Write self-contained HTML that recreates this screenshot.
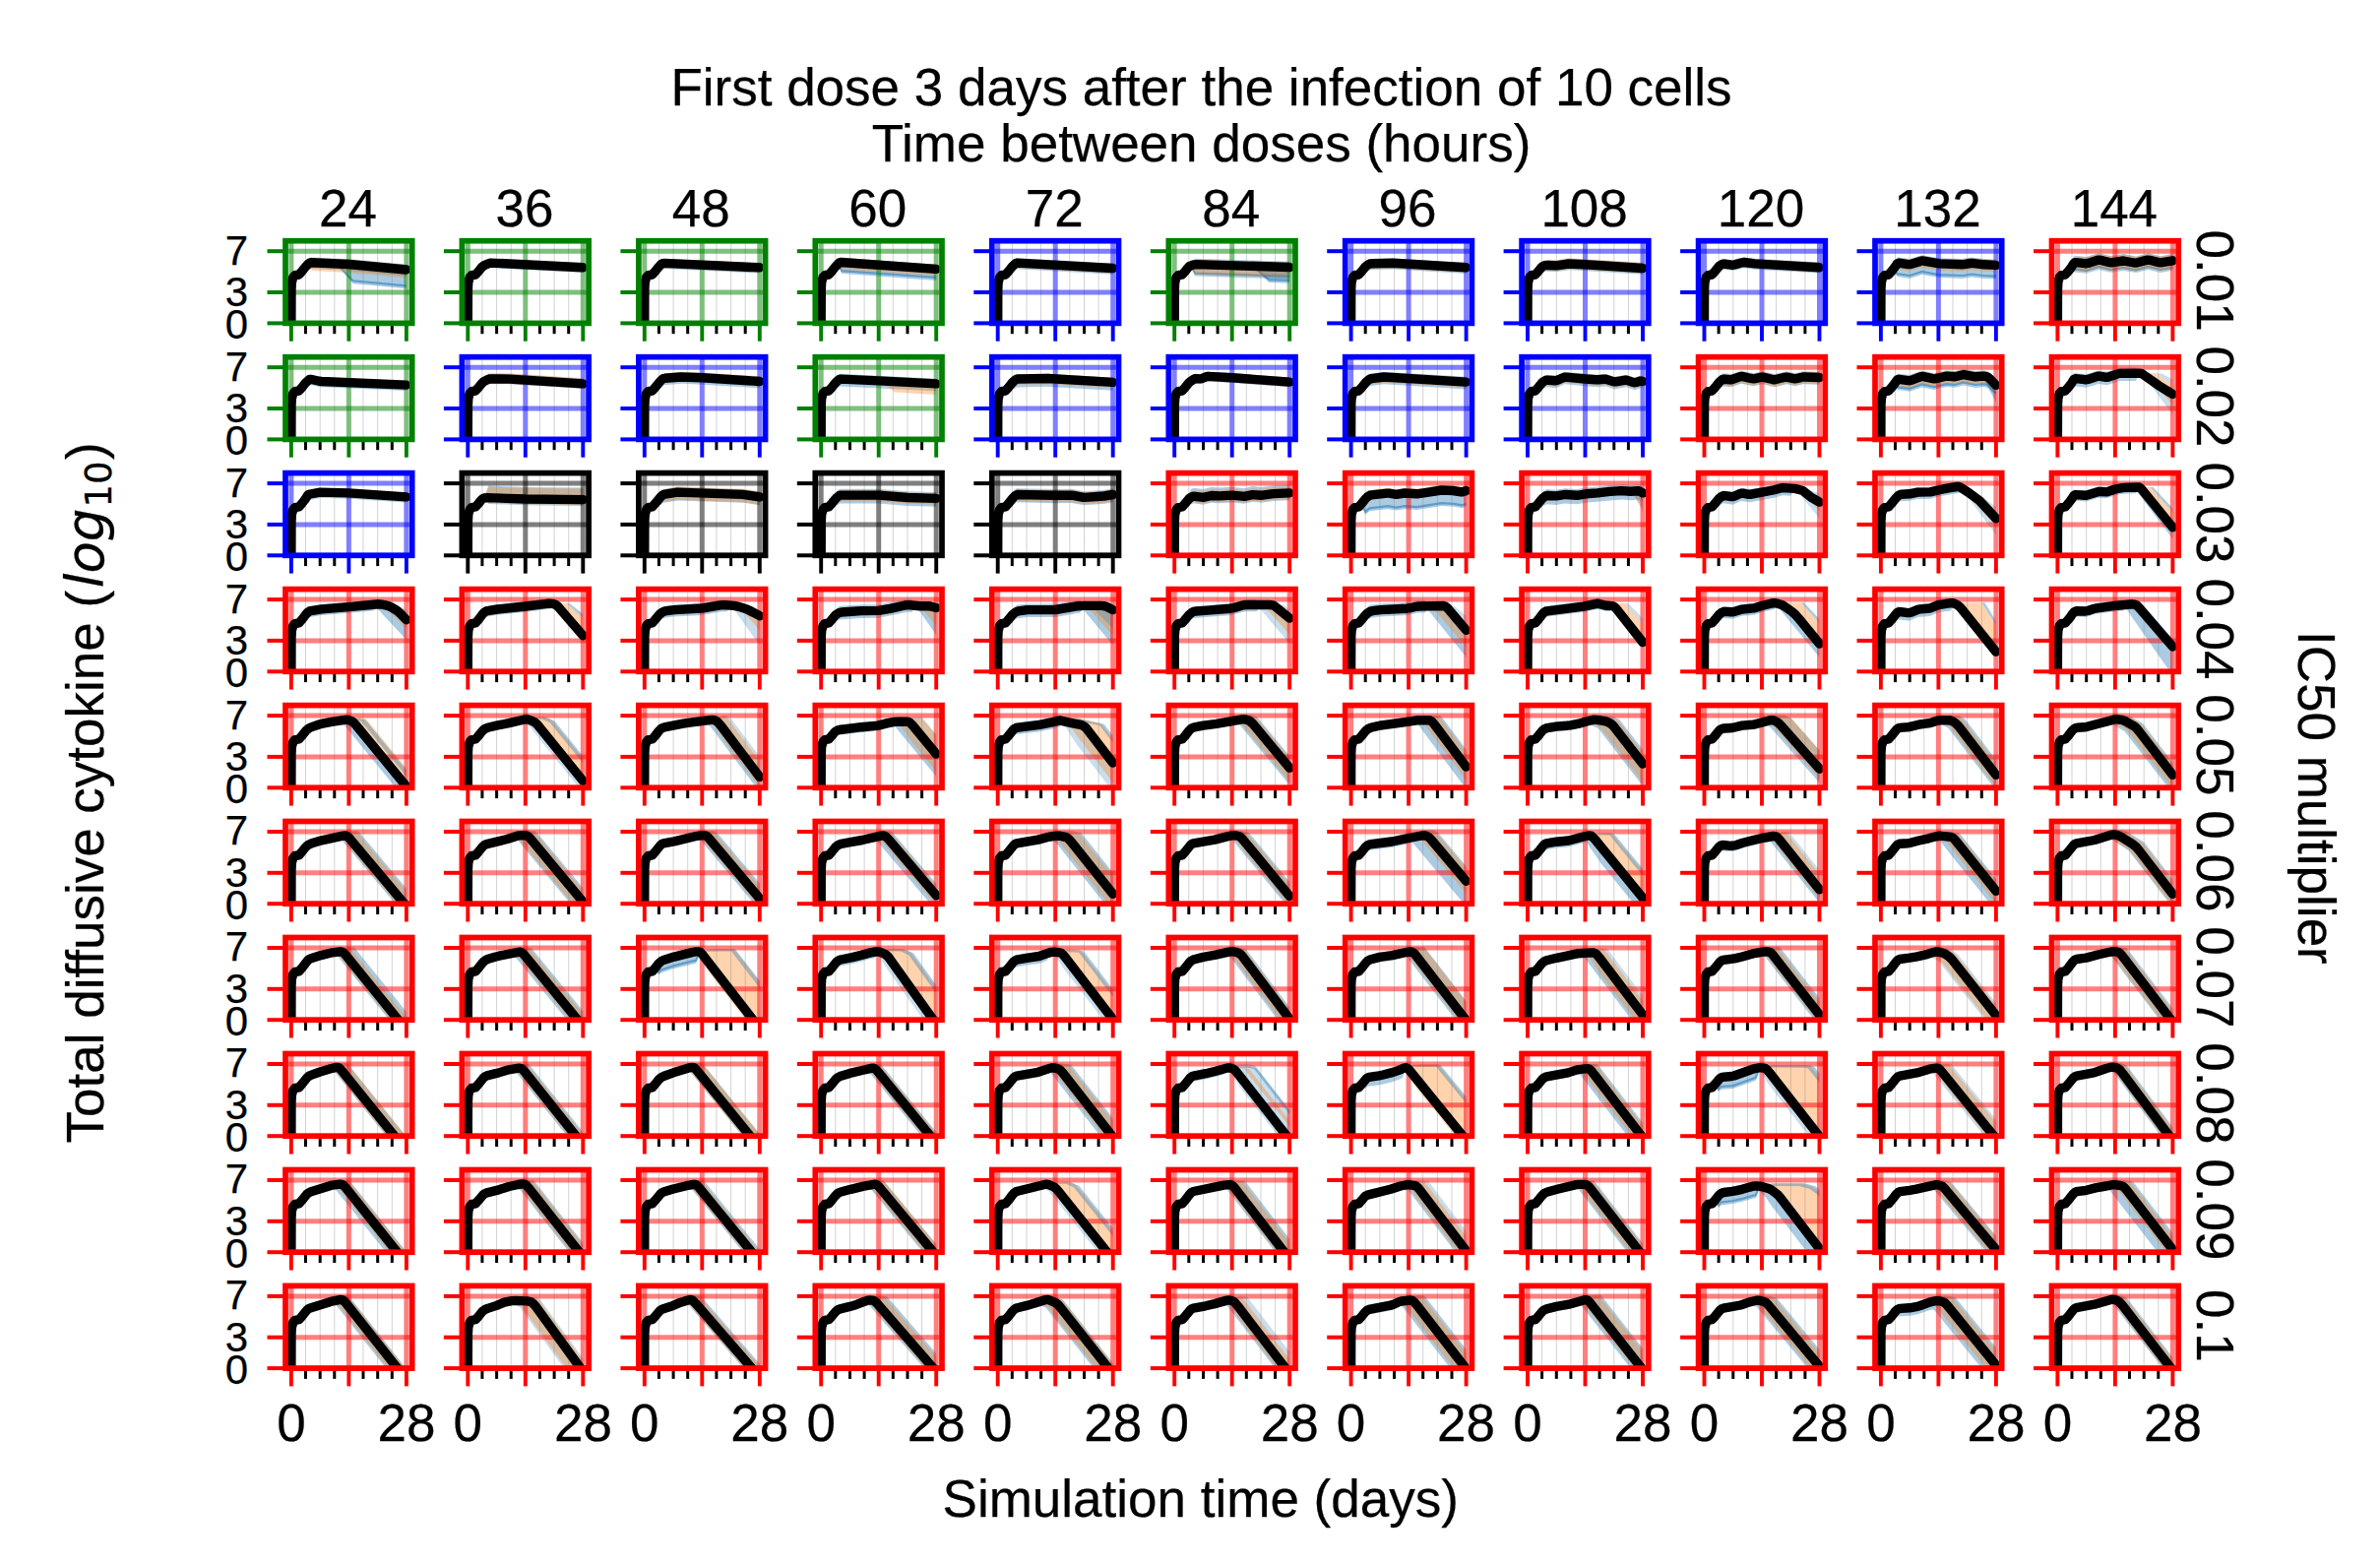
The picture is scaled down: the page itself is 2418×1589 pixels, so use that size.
<!DOCTYPE html>
<html lang="en"><head><meta charset="utf-8"><title>Total diffusive cytokine</title>
<style>
html,body{margin:0;padding:0;background:#fff}
svg{display:block}
text{font-family:"Liberation Sans", sans-serif;fill:#000;stroke:#000;stroke-width:0.25px}
.m{font-size:53px}
.t{font-size:42px}
.cu{fill:none;stroke:#000;stroke-width:9.4;stroke-linejoin:round;stroke-linecap:round}
.mg{stroke:#808080;stroke-width:0.8;stroke-opacity:0.45}
.mt{stroke:#000;stroke-width:3}
</style></head><body>
<svg width="2418" height="1589" viewBox="0 0 2418 1589">
<rect width="2418" height="1589" fill="#fff"/>
<defs><clipPath id="ax"><rect x="-5.9" y="-83.7" width="128.7" height="83.7"/></clipPath>
<g id="mn"><line class="mg" x1="14.6" x2="14.6" y1="-83.7" y2="0"/><line class="mg" x1="29.3" x2="29.3" y1="-83.7" y2="0"/><line class="mg" x1="43.9" x2="43.9" y1="-83.7" y2="0"/><line class="mg" x1="73.1" x2="73.1" y1="-83.7" y2="0"/><line class="mg" x1="87.8" x2="87.8" y1="-83.7" y2="0"/><line class="mg" x1="102.4" x2="102.4" y1="-83.7" y2="0"/><line class="mt" x1="14.6" x2="14.6" y1="0" y2="10.8"/><line class="mt" x1="29.3" x2="29.3" y1="0" y2="10.8"/><line class="mt" x1="43.9" x2="43.9" y1="0" y2="10.8"/><line class="mt" x1="73.1" x2="73.1" y1="0" y2="10.8"/><line class="mt" x1="87.8" x2="87.8" y1="0" y2="10.8"/><line class="mt" x1="102.4" x2="102.4" y1="0" y2="10.8"/></g>
<g id="fg" stroke="#008000" fill="none"><g stroke-opacity="0.5" stroke-width="5" clip-path="url(#ax)"><line x1="0" x2="0" y1="-83.7" y2="0"/><line x1="58.5" x2="58.5" y1="-83.7" y2="0"/><line x1="117" x2="117" y1="-83.7" y2="0"/><line x1="-5.9" x2="122.9" y1="0" y2="0"/><line x1="-5.9" x2="122.9" y1="-31.4" y2="-31.4"/><line x1="-5.9" x2="122.9" y1="-73.2" y2="-73.2"/></g></g>
<g id="sg" stroke="#008000" fill="none"><line x1="0" x2="0" y1="0" y2="18.3" stroke-width="3.9"/><line x1="58.5" x2="58.5" y1="0" y2="18.3" stroke-width="3.9"/><line x1="117" x2="117" y1="0" y2="18.3" stroke-width="3.9"/><line x1="-24.4" x2="-5.9" y1="0" y2="0" stroke-width="4"/><line x1="-24.4" x2="-5.9" y1="-31.4" y2="-31.4" stroke-width="4"/><line x1="-24.4" x2="-5.9" y1="-73.2" y2="-73.2" stroke-width="4"/><rect x="-5.9" y="-83.7" width="128.7" height="83.7" stroke-width="5.7"/></g>
<g id="fb" stroke="#0000ff" fill="none"><g stroke-opacity="0.5" stroke-width="5" clip-path="url(#ax)"><line x1="0" x2="0" y1="-83.7" y2="0"/><line x1="58.5" x2="58.5" y1="-83.7" y2="0"/><line x1="117" x2="117" y1="-83.7" y2="0"/><line x1="-5.9" x2="122.9" y1="0" y2="0"/><line x1="-5.9" x2="122.9" y1="-31.4" y2="-31.4"/><line x1="-5.9" x2="122.9" y1="-73.2" y2="-73.2"/></g></g>
<g id="sb" stroke="#0000ff" fill="none"><line x1="0" x2="0" y1="0" y2="18.3" stroke-width="3.9"/><line x1="58.5" x2="58.5" y1="0" y2="18.3" stroke-width="3.9"/><line x1="117" x2="117" y1="0" y2="18.3" stroke-width="3.9"/><line x1="-24.4" x2="-5.9" y1="0" y2="0" stroke-width="4"/><line x1="-24.4" x2="-5.9" y1="-31.4" y2="-31.4" stroke-width="4"/><line x1="-24.4" x2="-5.9" y1="-73.2" y2="-73.2" stroke-width="4"/><rect x="-5.9" y="-83.7" width="128.7" height="83.7" stroke-width="5.7"/></g>
<g id="fk" stroke="#000000" fill="none"><g stroke-opacity="0.5" stroke-width="5" clip-path="url(#ax)"><line x1="0" x2="0" y1="-83.7" y2="0"/><line x1="58.5" x2="58.5" y1="-83.7" y2="0"/><line x1="117" x2="117" y1="-83.7" y2="0"/><line x1="-5.9" x2="122.9" y1="0" y2="0"/><line x1="-5.9" x2="122.9" y1="-31.4" y2="-31.4"/><line x1="-5.9" x2="122.9" y1="-73.2" y2="-73.2"/></g></g>
<g id="sk" stroke="#000000" fill="none"><line x1="0" x2="0" y1="0" y2="18.3" stroke-width="3.9"/><line x1="58.5" x2="58.5" y1="0" y2="18.3" stroke-width="3.9"/><line x1="117" x2="117" y1="0" y2="18.3" stroke-width="3.9"/><line x1="-24.4" x2="-5.9" y1="0" y2="0" stroke-width="4"/><line x1="-24.4" x2="-5.9" y1="-31.4" y2="-31.4" stroke-width="4"/><line x1="-24.4" x2="-5.9" y1="-73.2" y2="-73.2" stroke-width="4"/><rect x="-5.9" y="-83.7" width="128.7" height="83.7" stroke-width="5.7"/></g>
<g id="fr" stroke="#ff0000" fill="none"><g stroke-opacity="0.5" stroke-width="5" clip-path="url(#ax)"><line x1="0" x2="0" y1="-83.7" y2="0"/><line x1="58.5" x2="58.5" y1="-83.7" y2="0"/><line x1="117" x2="117" y1="-83.7" y2="0"/><line x1="-5.9" x2="122.9" y1="0" y2="0"/><line x1="-5.9" x2="122.9" y1="-31.4" y2="-31.4"/><line x1="-5.9" x2="122.9" y1="-73.2" y2="-73.2"/></g></g>
<g id="sr" stroke="#ff0000" fill="none"><line x1="0" x2="0" y1="0" y2="18.3" stroke-width="3.9"/><line x1="58.5" x2="58.5" y1="0" y2="18.3" stroke-width="3.9"/><line x1="117" x2="117" y1="0" y2="18.3" stroke-width="3.9"/><line x1="-24.4" x2="-5.9" y1="0" y2="0" stroke-width="4"/><line x1="-24.4" x2="-5.9" y1="-31.4" y2="-31.4" stroke-width="4"/><line x1="-24.4" x2="-5.9" y1="-73.2" y2="-73.2" stroke-width="4"/><rect x="-5.9" y="-83.7" width="128.7" height="83.7" stroke-width="5.7"/></g>
</defs>
<g transform="translate(295.9 328.4)"><g clip-path="url(#ax)"><path d="M12.5 -54.9L16.7 -64.8L18.3 -66.5L19.2 -66.9L59 -65.1L117 -59.7L117 -48.2L58.2 -53.6L19.2 -55.4L16.7 -53.4L15 -54.3L12.5 -54.9Z" fill="#1f77b4" fill-opacity="0.38"/><path d="M46 -60.5L62.5 -63.7L117 -58.6L117 -35.1L63.3 -40.1L62.5 -40.4L46 -60.5Z" fill="#1f77b4" fill-opacity="0.38"/><path d="M46 -60.5L62.7 -43.1L117 -38" fill="none" stroke="#1f77b4" stroke-opacity="0.55" stroke-width="2.2"/><path d="M16.7 -59.7L19.2 -64.5L20.9 -66.3L21.7 -66.3L59 -64.6L117 -59.1L117 -46.1L59 -51.5L20.9 -53.3L19.2 -56.7L16.7 -59.7Z" fill="#ff7f0e" fill-opacity="0.34"/></g><use href="#mn"/><use href="#fg"/><path class="cu" clip-path="url(#ax)" d="M0 5.2L0 0L0.1 -34.5L0.5 -41.8L1.9 -46.5L3.8 -48.7L7.9 -49.4L10 -51.8L10.9 -52.8L14.2 -57L16.7 -59.7L18.4 -61.1L20.1 -61.6L58.5 -59.9L117 -54.4"/><use href="#sg"/></g>
<g transform="translate(475.3 328.4)"><g clip-path="url(#ax)"><path d="M12.5 -54.9L15 -60.5L16.7 -62.9L22.5 -65.6L117 -60.7L117 -51.3L23.3 -56.2L22.5 -56.2L16.7 -53.6L15 -54.9L12.5 -54.9Z" fill="#1f77b4" fill-opacity="0.38"/></g><use href="#mn"/><use href="#fg"/><path class="cu" clip-path="url(#ax)" d="M0 5.2L0 0L0.1 -34.5L0.5 -41.8L1.9 -46.5L3.8 -48.7L7.9 -49.4L10 -51.8L10.9 -52.8L14.2 -56.9L15.9 -58.3L20.9 -60.7L23.4 -61.3L117 -56.6"/><use href="#sg"/></g>
<g transform="translate(654.8 328.4)"><g clip-path="url(#ax)"><path d="M12.5 -54.9L16.7 -63.7L18.3 -65.3L117 -60.7L117 -50.8L19.2 -55.3L18.3 -55.3L16.7 -53.8L15 -54.6L12.5 -54.9Z" fill="#1f77b4" fill-opacity="0.38"/><path d="M16.7 -59.6L18.4 -63L20.9 -65.7L117 -61.3L117 -51.8L21.7 -56.3L20.9 -56.3L18.4 -59.2L16.7 -59.6Z" fill="#ff7f0e" fill-opacity="0.34"/></g><use href="#mn"/><use href="#fg"/><path class="cu" clip-path="url(#ax)" d="M0 5.2L0 0L0.1 -34.5L0.5 -41.8L1.9 -46.5L3.8 -48.7L7.9 -49.4L10 -51.8L10.9 -52.8L14.2 -57L16.7 -59.6L18.4 -60.7L20.1 -61L117 -56.6"/><use href="#sg"/></g>
<g transform="translate(834.2 328.4)"><g clip-path="url(#ax)"><path d="M16.7 -59.8L19.2 -64.8L20.9 -66.6L117 -59.7L117 -43.5L21.7 -50.3L20.9 -50.5L19.2 -55.2L16.7 -59.8Z" fill="#1f77b4" fill-opacity="0.38"/><path d="M16.7 -59.8L18.8 -57.7L20.9 -53.3L117 -46.5" fill="none" stroke="#1f77b4" stroke-opacity="0.55" stroke-width="2.2"/><path d="M16.7 -59.8L19.2 -64.8L20.9 -66.6L117 -59.7L117 -48.2L21.7 -55L20.9 -55.1L19.2 -58L18.4 -58.9L16.7 -59.8Z" fill="#ff7f0e" fill-opacity="0.34"/></g><use href="#mn"/><use href="#fg"/><path class="cu" clip-path="url(#ax)" d="M0 5.2L0 0L0.1 -34.5L0.5 -41.8L1.9 -46.5L3.8 -48.7L7.9 -49.4L10 -51.8L10.9 -52.8L15 -58L17.6 -60.7L18.4 -61.3L19.2 -61.8L20.1 -61.9L117 -55"/><use href="#sg"/></g>
<g transform="translate(1013.7 328.4)"><g clip-path="url(#ax)"><path d="M12.5 -54.9L16.7 -64.2L19.2 -66.1L117 -60.7L117 -49.7L19.2 -55.1L16.7 -53.3L15 -54.3L12.5 -54.9Z" fill="#1f77b4" fill-opacity="0.38"/><path d="M16.7 -59.6L19.2 -63.9L20.9 -65.5L117 -60.1L117 -50.7L21.7 -56L20.9 -56.1L18.4 -59L16.7 -59.6Z" fill="#ff7f0e" fill-opacity="0.34"/></g><use href="#mn"/><use href="#fb"/><path class="cu" clip-path="url(#ax)" d="M0 5.2L0 0L0.1 -34.5L0.5 -41.8L1.9 -46.5L3.8 -48.7L7.9 -49.4L10 -51.8L10.9 -52.8L14.2 -57L16.7 -59.5L18.4 -60.8L20.1 -61.3L117 -55.9"/><use href="#sb"/></g>
<g transform="translate(1193.2 328.4)"><g clip-path="url(#ax)"><path d="M16.7 -58.6L20.9 -65.6L117 -62.6L117 -44.8L21.7 -47.8L20.9 -48L16.7 -58.6Z" fill="#1f77b4" fill-opacity="0.38"/><path d="M16.7 -58.6L20.9 -50.8L117 -47.8" fill="none" stroke="#1f77b4" stroke-opacity="0.55" stroke-width="2.2"/><path d="M79.4 -58L96.6 -61.7L117 -61L117 -40.6L96.6 -41.3L95.8 -41.7L79.4 -58Z" fill="#1f77b4" fill-opacity="0.38"/><path d="M79.4 -58L96.1 -44.2L117 -43.6" fill="none" stroke="#1f77b4" stroke-opacity="0.55" stroke-width="2.2"/><path d="M16.7 -58.6L20.9 -64.6L117 -61.6L117 -46.9L21.7 -49.9L20.9 -50L16.7 -58.6Z" fill="#ff7f0e" fill-opacity="0.34"/></g><use href="#mn"/><use href="#fg"/><path class="cu" clip-path="url(#ax)" d="M0 5.2L0 0L0.1 -34.5L0.5 -41.8L1.9 -46.5L3.8 -48.7L7.9 -49.4L10 -51.8L10.9 -52.8L13.4 -56L15 -57.7L15.9 -58.2L17.6 -58.8L20.1 -59.6L21.7 -59.8L117 -56.9"/><use href="#sg"/></g>
<g transform="translate(1372.6 328.4)"><g clip-path="url(#ax)"><path d="M12.5 -54.9L15 -60.8L16.7 -63.8L19.2 -65.2L42.4 -65.8L117 -61.3L117 -50.3L41.6 -54.8L19.2 -54.2L16.7 -52.9L15 -54.3L12.5 -54.9Z" fill="#1f77b4" fill-opacity="0.38"/><path d="M16.7 -59.1L19.2 -63L20.9 -64.7L41.6 -65.3L117 -60.7L117 -51.3L42.4 -55.9L20.9 -55.4L19.2 -57.4L16.7 -59.1Z" fill="#ff7f0e" fill-opacity="0.34"/></g><use href="#mn"/><use href="#fb"/><path class="cu" clip-path="url(#ax)" d="M0 5.2L0 0L0.1 -34.5L0.5 -41.8L1.9 -46.5L3.8 -48.7L7.9 -49.4L10 -51.8L10.9 -52.8L14.2 -56.9L15.9 -58.5L18.4 -60.1L19.2 -60.4L20.9 -60.6L42.6 -61.1L117 -56.6"/><use href="#sb"/></g>
<g transform="translate(1552 328.4)"><g clip-path="url(#ax)"><path d="M12.5 -54.9L15 -61.1L16.7 -63.6L19.2 -64.2L29.1 -63.6L41.6 -65.7L117 -61.2L117 -49.7L42.4 -54.2L29.1 -52.1L19.2 -52.7L16.7 -52.2L15 -54.3L12.5 -54.9Z" fill="#1f77b4" fill-opacity="0.38"/><path d="M16.7 -58.5L20.9 -64.6L29.2 -64.1L41.6 -66.2L117 -61.7L117 -50.7L42.4 -55.2L29.2 -53.2L21.7 -53.6L20.9 -53.7L16.7 -58.5Z" fill="#ff7f0e" fill-opacity="0.34"/></g><use href="#mn"/><use href="#fb"/><path class="cu" clip-path="url(#ax)" d="M0 5.2L0 0L0.1 -34.5L0.5 -41.8L1.9 -46.5L3.8 -48.7L7.9 -49.4L10 -51.8L10.9 -52.8L14.2 -56.9L15 -57.7L16.7 -58.5L18.4 -58.8L20.1 -58.9L29.3 -58.5L41.8 -60.4L58.5 -59.6L117 -55.9"/><use href="#sb"/></g>
<g transform="translate(1731.5 328.4)"><g clip-path="url(#ax)"><path d="M12.5 -54.9L15 -61.1L16.7 -64.3L18.3 -65.4L19.2 -65.7L29.1 -64.2L39.9 -67.2L50.7 -65.7L117 -61.8L117 -50.8L50.7 -54.7L39.9 -56.2L29.1 -53.3L19.2 -54.7L16.7 -53.4L15 -54.6L12.5 -54.9Z" fill="#1f77b4" fill-opacity="0.38"/><path d="M16.7 -59.1L19.2 -63.3L20.9 -64.9L29.2 -63.7L39.9 -66.7L50.7 -65.2L117 -61.3L117 -51.8L50.7 -55.8L39.9 -57.3L29.2 -54.3L20.9 -55.5L19.2 -57.7L16.7 -59.1Z" fill="#ff7f0e" fill-opacity="0.34"/></g><use href="#mn"/><use href="#fb"/><path class="cu" clip-path="url(#ax)" d="M0 5.2L0 0L0.1 -34.5L0.5 -41.8L1.9 -46.5L3.8 -48.7L7.9 -49.4L10 -51.8L10.9 -52.8L15 -57.8L16.7 -59.1L18.4 -60.1L20.1 -60.3L27.6 -59.2L29.3 -59.2L30.9 -59.5L38.5 -61.6L40.1 -61.9L51 -60.5L117 -56.6"/><use href="#sb"/></g>
<g transform="translate(1910.9 328.4)"><g clip-path="url(#ax)"><path d="M12.5 -54.9L15 -61.5L16.7 -67.1L29.1 -65.4L41.6 -69.2L59 -66.2L83 -65.4L92.2 -66.8L104.6 -65.3L117 -64.7L117 -44.9L104.6 -45.5L92.2 -47L83 -45.5L59 -46.4L41.6 -49.4L29.1 -45.5L16.7 -47.3L15 -49.6L12.5 -54.9Z" fill="#1f77b4" fill-opacity="0.38"/><path d="M12.5 -54.9L14.6 -51.9L16.7 -50.2L29.3 -48.4L41.8 -52.4L58.5 -49.3L83.6 -48.4L92 -49.9L104.5 -48.4L117 -47.8" fill="none" stroke="#1f77b4" stroke-opacity="0.55" stroke-width="2.2"/><path d="M16.7 -61.4L20.9 -66L29.2 -64.8L41.6 -68.7L59 -65.7L83 -64.8L92.2 -66.3L104.6 -64.8L117 -64.2L117 -52.2L104.6 -52.8L92.2 -54.3L83 -52.8L59 -53.7L41.6 -56.7L29.2 -52.8L20.9 -54.1L16.7 -61.4Z" fill="#ff7f0e" fill-opacity="0.34"/></g><use href="#mn"/><use href="#fb"/><path class="cu" clip-path="url(#ax)" d="M0 5.2L0 0L0.1 -34.5L0.5 -41.8L1.9 -46.5L3.8 -48.7L7.9 -49.4L10 -51.8L10.9 -52.8L14.2 -57.1L15.9 -59.6L16.7 -60.6L17.6 -61.1L18.4 -61.2L27.6 -59.8L29.3 -59.8L30.9 -60.1L40.1 -63L41.8 -63.4L43.5 -63.2L59.4 -60.5L82.8 -59.7L84.4 -59.8L91.1 -60.9L92.8 -61L104.5 -59.6L117 -59"/><use href="#sb"/></g>
<g transform="translate(2090.4 328.4)"><g clip-path="url(#ax)"><path d="M12.5 -54.9L15 -62.1L16.7 -68.7L29.1 -67.3L41.6 -71.2L54 -68.3L67.3 -70.3L79.7 -68L92.2 -71.2L104.6 -68.2L117 -70.3L117 -53.6L104.6 -51.5L92.2 -54.5L79.7 -51.3L67.3 -53.5L54 -51.6L41.6 -54.5L29.1 -50.6L15 -52.1L12.5 -54.9Z" fill="#1f77b4" fill-opacity="0.38"/><path d="M12.5 -54.9L14.6 -54L15.7 -54.3L16.7 -55L29.3 -53.5L41.8 -57.5L54.3 -54.4L66.9 -56.5L79.4 -54.1L92 -57.5L104.5 -54.4L117 -56.5" fill="none" stroke="#1f77b4" stroke-opacity="0.55" stroke-width="2.2"/><path d="M16.7 -62L20.9 -67.8L29.2 -66.8L41.6 -70.7L54 -67.8L66.5 -69.8L79.7 -67.5L92.2 -70.7L104.6 -67.7L117 -69.8L117 -55.7L104.6 -53.6L92.2 -56.6L79.7 -53.4L66.5 -55.6L54 -53.7L41.6 -56.6L29.2 -52.7L20.9 -53.7L16.7 -62Z" fill="#ff7f0e" fill-opacity="0.34"/></g><use href="#mn"/><use href="#fr"/><path class="cu" clip-path="url(#ax)" d="M0 5.2L0 0L0.1 -34.5L0.5 -41.8L1.9 -46.5L3.8 -48.7L7.9 -49.4L10 -51.8L10.9 -52.8L14.2 -57.1L16.7 -61.1L17.6 -61.7L18.4 -61.8L27.6 -60.7L29.3 -60.7L30.9 -61L40.1 -63.9L41.8 -64.2L43.5 -64.1L52.7 -61.8L54.3 -61.6L66.9 -63.4L77.7 -61.4L79.4 -61.3L81.1 -61.6L90.3 -64L92 -64.3L93.6 -64.1L102.8 -61.8L104.5 -61.6L106.2 -61.7L117 -63.6"/><use href="#sr"/></g>
<g transform="translate(295.9 446.4)"><g clip-path="url(#ax)"><path d="M12.5 -54.9L16.7 -63.6L18.3 -65.1L19.2 -65.5L30 -63.1L117 -59.5L117 -49.5L30 -53.1L19.2 -55.5L18.3 -55.2L16.7 -53.8L15 -54.6L12.5 -54.9Z" fill="#1f77b4" fill-opacity="0.38"/></g><use href="#mn"/><use href="#fg"/><path class="cu" clip-path="url(#ax)" d="M0 5.2L0 0L0.1 -34.5L0.5 -41.8L1.9 -46.5L3.8 -48.7L7.9 -49.4L10 -51.8L10.9 -52.8L14.2 -57L15.9 -58.7L17.6 -60.2L18.4 -60.8L19.2 -61L20.9 -60.9L28.4 -59.1L30.9 -58.9L117 -55.3"/><use href="#sg"/></g>
<g transform="translate(475.3 446.4)"><g clip-path="url(#ax)"><path d="M12.5 -54.9L15 -61.1L16.7 -64.2L20.8 -66.6L42.4 -66.6L117 -61.7L117 -51.3L41.6 -56.1L20.8 -56.1L16.7 -53.8L15 -54.9L12.5 -54.9Z" fill="#1f77b4" fill-opacity="0.38"/><path d="M16.7 -59L20.9 -67L21.7 -67.1L42.4 -67.1L117 -62.2L117 -51.8L42.4 -56.6L20.9 -56.7L16.7 -59Z" fill="#ff7f0e" fill-opacity="0.34"/></g><use href="#mn"/><use href="#fb"/><path class="cu" clip-path="url(#ax)" d="M0 5.2L0 0L0.1 -34.5L0.5 -41.8L1.9 -46.5L3.8 -48.7L7.9 -49.4L10 -51.8L10.9 -52.8L14.2 -56.9L15.9 -58.5L20.1 -60.8L20.9 -61.1L22.6 -61.4L42.6 -61.3L117 -56.5"/><use href="#sb"/></g>
<g transform="translate(654.8 446.4)"><g clip-path="url(#ax)"><path d="M12.5 -54.9L16.7 -64.4L19.2 -66.7L38.3 -68.2L59 -67.3L117 -63.6L117 -52.1L59 -55.7L38.3 -56.7L19.2 -55.2L16.7 -53L12.5 -54.9Z" fill="#1f77b4" fill-opacity="0.38"/><path d="M16.7 -59.8L19.2 -65.1L20.9 -67.3L37.4 -68.7L59 -67.8L117 -64.2L117 -54.2L59 -57.8L38.3 -58.8L20.9 -57.5L19.2 -59.2L18.4 -59.7L16.7 -59.8Z" fill="#ff7f0e" fill-opacity="0.34"/></g><use href="#mn"/><use href="#fb"/><path class="cu" clip-path="url(#ax)" d="M0 5.2L0 0L0.1 -34.5L0.5 -41.8L1.9 -46.5L3.8 -48.7L7.9 -49.4L10 -51.8L10.9 -52.8L15.9 -58.9L17.6 -60.6L19.2 -61.8L20.9 -62.1L36.8 -63.4L58.5 -62.6L117 -58.9"/><use href="#sb"/></g>
<g transform="translate(834.2 446.4)"><g clip-path="url(#ax)"><path d="M12.5 -54.9L16.7 -64.7L19.2 -66.6L117 -61.7L117 -49.2L19.2 -54L16.7 -52.2L15 -53.7L12.5 -54.9Z" fill="#1f77b4" fill-opacity="0.38"/><path d="M58.5 -59.5L75 -63.3L117 -61.2L117 -45.5L75 -47.9L58.5 -59.5Z" fill="#ff7f0e" fill-opacity="0.34"/></g><use href="#mn"/><use href="#fg"/><path class="cu" clip-path="url(#ax)" d="M0 5.2L0 0L0.1 -34.5L0.5 -41.8L1.9 -46.5L3.8 -48.7L7.9 -49.4L10 -51.8L10.9 -52.8L14.2 -57L16.7 -59.5L18.4 -60.8L20.1 -61.3L58.5 -59.5L117 -56.5"/><use href="#sg"/></g>
<g transform="translate(1013.7 446.4)"><g clip-path="url(#ax)"><path d="M12.5 -54.9L16.7 -64.2L19.2 -66.1L50.7 -66.6L117 -62.7L117 -49.6L49.9 -53.6L19.2 -53L16.7 -51.2L15 -53L12.5 -54.9Z" fill="#1f77b4" fill-opacity="0.38"/><path d="M16.7 -59.5L19.2 -64.2L20.9 -66.1L21.7 -66.1L50.7 -66.6L117 -62.7L117 -52.3L50.7 -56.2L20.9 -55.7L19.2 -57.9L16.7 -59.5Z" fill="#ff7f0e" fill-opacity="0.34"/></g><use href="#mn"/><use href="#fb"/><path class="cu" clip-path="url(#ax)" d="M0 5.2L0 0L0.1 -34.5L0.5 -41.8L1.9 -46.5L3.8 -48.7L7.9 -49.4L10 -51.8L10.9 -52.8L14.2 -57L16.7 -59.5L18.4 -60.8L19.2 -61.2L20.9 -61.4L51 -61.9L117 -58"/><use href="#sb"/></g>
<g transform="translate(1193.2 446.4)"><g clip-path="url(#ax)"><path d="M12.5 -54.9L15 -60.8L16.7 -63.8L20.8 -66.6L27.5 -66.2L33.3 -68.7L59 -67.3L117 -63L117 -53.1L59 -57.3L34.1 -58.8L33.3 -58.8L27.5 -56.3L20.8 -56.7L16.7 -54L15 -54.9L12.5 -54.9Z" fill="#1f77b4" fill-opacity="0.38"/><path d="M16.7 -59.2L20.9 -66.6L27.5 -66.2L33.3 -68.7L59 -67.2L117 -63L117 -53.6L59 -57.8L34.1 -59.3L33.3 -59.3L27.5 -56.8L26.7 -56.7L20.9 -57.3L16.7 -59.2Z" fill="#ff7f0e" fill-opacity="0.34"/></g><use href="#mn"/><use href="#fb"/><path class="cu" clip-path="url(#ax)" d="M0 5.2L0 0L0.1 -34.5L0.5 -41.8L1.9 -46.5L3.8 -48.7L7.9 -49.4L10 -51.8L10.9 -52.8L15 -57.8L16.7 -59.2L20.1 -61.3L21.7 -61.8L25.9 -61.5L27.6 -61.7L32.6 -63.7L34.3 -64L58.5 -62.6L117 -58.3"/><use href="#sb"/></g>
<g transform="translate(1372.6 446.4)"><g clip-path="url(#ax)"><path d="M12.5 -54.9L16.7 -64.7L18.3 -66.2L19.2 -66.6L33.3 -68.7L117 -63.6L117 -51L33.3 -56.1L19.2 -54.1L16.7 -52.2L15 -53.7L12.5 -54.9Z" fill="#1f77b4" fill-opacity="0.38"/><path d="M16.7 -59.5L19.2 -63.9L20.9 -65.8L33.3 -67.7L117 -62.5L117 -52.6L34.1 -57.7L20.9 -56L19.2 -58L16.7 -59.5Z" fill="#ff7f0e" fill-opacity="0.34"/></g><use href="#mn"/><use href="#fb"/><path class="cu" clip-path="url(#ax)" d="M0 5.2L0 0L0.1 -34.5L0.5 -41.8L1.9 -46.5L3.8 -48.7L7.9 -49.4L10 -51.8L10.9 -52.8L15 -57.9L17.6 -60.2L19.2 -61.3L20.9 -61.7L33.4 -63.4L117 -58.3"/><use href="#sb"/></g>
<g transform="translate(1552 446.4)"><g clip-path="url(#ax)"><path d="M12.5 -54.9L15 -61.1L16.7 -64.3L18.3 -65.4L19.2 -65.6L29.1 -64.8L37.4 -68.6L70.6 -65.7L79.7 -66.5L88 -63.6L100.5 -65.6L108.7 -62.7L114.6 -64.6L117 -64.2L117 -51.6L114.6 -52.1L108.7 -50.1L100.5 -53.1L88 -51L79.7 -53.9L70.6 -53.2L58.2 -54.1L38.3 -56.1L37.4 -56.1L29.1 -52.2L19.2 -53.1L16.7 -51.8L15 -53.7L12.5 -54.9Z" fill="#1f77b4" fill-opacity="0.38"/><path d="M16.7 -59.1L19.2 -63.2L20.9 -64.9L29.2 -64.3L37.4 -68.1L70.6 -65.2L79.7 -66L88 -63.1L100.5 -65.1L108.7 -62.1L114.6 -64.1L117 -63.6L117 -53.2L114.6 -53.6L108.7 -51.7L100.5 -54.6L88 -52.6L79.7 -55.5L70.6 -54.7L58.2 -55.6L38.3 -57.7L37.4 -57.7L29.2 -53.8L20.9 -54.6L19.2 -57L16.7 -59.1Z" fill="#ff7f0e" fill-opacity="0.34"/></g><use href="#mn"/><use href="#fb"/><path class="cu" clip-path="url(#ax)" d="M0 5.2L0 0L0.1 -34.5L0.5 -41.8L1.9 -46.5L3.8 -48.7L7.9 -49.4L10 -51.8L10.9 -52.8L15 -57.8L16.7 -59.1L18.4 -60L20.1 -60.3L27.6 -59.7L29.3 -59.8L30.9 -60.3L36.8 -63L38.5 -63.3L58.5 -61.4L69.4 -60.6L71.9 -60.6L77.7 -61.2L79.4 -61.2L87.8 -58.5L89.5 -58.6L99.5 -60.3L101.2 -60.1L107 -58L108.7 -57.7L110.4 -58L114.5 -59.3L115.4 -59.3L117 -58.9"/><use href="#sb"/></g>
<g transform="translate(1731.5 446.4)"><g clip-path="url(#ax)"><path d="M12.5 -54.9L16.7 -65.2L18.3 -66.7L19.2 -67.1L27.5 -66.3L37.4 -69.8L49.9 -67.2L59 -69.1L71.4 -66.3L83.9 -69.2L92.2 -67.2L100.5 -69.2L117 -68.6L117 -55.6L100.5 -56.2L92.2 -54.1L83.9 -56.1L71.4 -53.2L59 -56.1L49.9 -54.1L37.4 -56.7L27.5 -53.2L19.2 -54L16.7 -52.2L15 -53.7L12.5 -54.9Z" fill="#1f77b4" fill-opacity="0.38"/><path d="M16.7 -59.5L19.2 -64.4L20.9 -66.3L27.5 -65.8L37.4 -69.3L49.9 -66.7L58.2 -68.6L59 -68.6L71.4 -65.8L83.9 -68.6L92.2 -66.6L100.5 -68.7L117 -68.1L117 -56.1L100.5 -56.7L92.2 -54.6L83.9 -56.6L71.4 -53.7L59 -56.6L58.2 -56.6L49.9 -54.6L37.4 -57.2L27.5 -53.8L26.7 -53.7L20.9 -54.4L19.2 -57.3L16.7 -59.5Z" fill="#ff7f0e" fill-opacity="0.34"/></g><use href="#mn"/><use href="#fr"/><path class="cu" clip-path="url(#ax)" d="M0 5.2L0 0L0.1 -34.5L0.5 -41.8L1.9 -46.5L3.8 -48.7L7.9 -49.4L10 -51.8L10.9 -52.8L15 -57.9L16.7 -59.5L18.4 -60.8L20.1 -61.2L25.9 -60.6L27.6 -60.7L35.9 -63.5L37.6 -63.9L39.3 -63.7L48.5 -61.7L50.2 -61.5L51.8 -61.8L57.7 -63.2L59.4 -63.2L69.4 -60.9L71.1 -60.6L72.7 -60.9L81.9 -63.1L83.6 -63.3L92 -61.6L93.6 -61.8L99.5 -63.2L101.2 -63.4L117 -62.9"/><use href="#sr"/></g>
<g transform="translate(1910.9 446.4)"><g clip-path="url(#ax)"><path d="M12.5 -54.9L15 -61.5L16.7 -67L29.1 -65.3L41.6 -69.8L54 -67.2L66.4 -70.1L75.6 -69.3L83.9 -71.6L96.3 -69.3L104.6 -70.1L108.7 -69.2L117 -60.7L117 -44L108.7 -52.4L104.6 -53.4L96.3 -52.5L83.9 -54.9L75.6 -52.6L66.4 -53.3L54 -50.5L41.6 -53L29.1 -48.6L16.7 -50.4L15 -51.5L12.5 -54.9Z" fill="#1f77b4" fill-opacity="0.38"/><path d="M12.5 -54.9L14.6 -53.5L15.7 -53.3L29.3 -51.5L41.8 -56L54.3 -53.3L66.9 -56.3L75.2 -55.4L83.6 -57.9L96.1 -55.4L104.5 -56.3L108.7 -55.4L117 -46.9" fill="none" stroke="#1f77b4" stroke-opacity="0.55" stroke-width="2.2"/><path d="M102.4 -64.2L104.8 -64.3L108.9 -63.3L117 -55L117 -37.7L102.4 -64.2Z" fill="#1f77b4" fill-opacity="0.38"/><path d="M16.7 -61.4L20.9 -65.9L29.2 -64.8L41.6 -69.3L54 -66.7L66.5 -69.5L75.6 -68.8L83.9 -71.1L96.3 -68.7L104.6 -69.6L108.7 -68.6L117 -60.2L117 -47.7L108.7 -56.1L104.6 -57.1L96.3 -56.2L83.9 -58.5L75.6 -56.3L66.5 -57L54 -54.1L41.6 -56.7L29.2 -52.2L20.9 -53.5L16.7 -61.4Z" fill="#ff7f0e" fill-opacity="0.34"/></g><use href="#mn"/><use href="#fr"/><path class="cu" clip-path="url(#ax)" d="M0 5.2L0 0L0.1 -34.5L0.5 -41.8L1.9 -46.5L3.8 -48.7L7.9 -49.4L10 -51.8L10.9 -52.8L14.2 -57.1L15.9 -59.6L16.7 -60.5L17.6 -61L18.4 -61.1L27.6 -59.8L29.3 -59.7L30.9 -60.1L40.1 -63.5L41.8 -63.9L43.5 -63.7L52.7 -61.7L54.3 -61.5L56 -61.8L66 -64.2L67.7 -64.3L75.2 -63.6L83.6 -65.7L85.3 -65.6L96.1 -63.6L103.7 -64.3L105.3 -64.2L107.8 -63.6L108.7 -63.2L110.4 -61.8L117 -55"/><use href="#sr"/></g>
<g transform="translate(2090.4 446.4)"><g clip-path="url(#ax)"><path d="M12.5 -54.9L15 -61.4L16.7 -67.5L29.1 -66.2L41.5 -70L50.5 -68.8L62.9 -72.9L78.6 -72.9L79.5 -72.8L83.6 -67.1L83.6 -67.1L79.5 -59.4L62.9 -59.3L50.5 -55.2L41.5 -56.4L29.1 -52.6L16.7 -54.1L15 -53.4L12.5 -54.9Z" fill="#1f77b4" fill-opacity="0.38"/><path d="M85.3 -67.1L103.2 -54.4L117 -45.9L117 -25.1L85.3 -67.1Z" fill="#1f77b4" fill-opacity="0.24"/><path d="M87.8 -65.4L103.2 -54.4L117 -45.9L117 -35.6L87.8 -65.4Z" fill="#ff7f0e" fill-opacity="0.34"/><path d="M63.1 -67.1L100.4 -67L117 -54.4L117 -45.9L102.9 -54.6L85.5 -67L63.1 -67.1Z" fill="#ff7f0e" fill-opacity="0.34"/><path d="M63.1 -67.1L105.4 -67.1L117 -60.7L117 -54.4L100.4 -67L63.1 -67.1Z" fill="#1f77b4" fill-opacity="0.24"/></g><use href="#mn"/><use href="#fr"/><path class="cu" clip-path="url(#ax)" d="M0 5.2L0 0L0.1 -34.5L0.5 -41.8L1.9 -46.5L3.8 -48.7L7.9 -49.4L10 -51.8L10.9 -52.8L14.2 -57.1L16.7 -61L17.6 -61.6L18.4 -61.7L27.6 -60.7L29.3 -60.6L30.9 -61L40.1 -63.9L41.8 -64.2L43.5 -64.1L49.3 -63.1L51 -63.2L62.7 -67L83.6 -67.1L85.3 -66.9L86.9 -65.9L102.8 -54.7L117 -45.9"/><use href="#sr"/></g>
<g transform="translate(295.9 564.3)"><g clip-path="url(#ax)"><path d="M12.5 -54.9L15 -60.5L16.7 -65.9L29.1 -68.4L59 -67.5L117 -63.6L117 -53.7L59 -57.6L30 -58.5L16.7 -56.1L15 -54.6L12.5 -54.9Z" fill="#1f77b4" fill-opacity="0.38"/></g><use href="#mn"/><use href="#fb"/><path class="cu" clip-path="url(#ax)" d="M0 5.2L0 0L0.1 -34.5L0.5 -41.8L1.9 -46.5L3.8 -48.7L7.9 -49.4L10 -51.8L10.9 -52.8L14.2 -57.1L16.7 -61.1L17.6 -61.8L19.2 -62.3L29.3 -64.2L58.5 -63.4L117 -59.4"/><use href="#sb"/></g>
<g transform="translate(475.3 564.3)"><g clip-path="url(#ax)"><path d="M16.7 -58.4L20.9 -70.7L59 -69.3L117 -68.7L117 -50.4L59 -51L21.7 -52.4L20.9 -52.5L16.7 -58.4Z" fill="#1f77b4" fill-opacity="0.38"/><path d="M16.7 -58.4L20.9 -69.6L59 -68.3L117 -67.7L117 -51.4L59 -52.1L21.7 -53.5L20.9 -53.5L16.7 -58.4Z" fill="#ff7f0e" fill-opacity="0.34"/></g><use href="#mn"/><use href="#fk"/><path class="cu" clip-path="url(#ax)" d="M0 5.2L0 0L0.1 -34.5L0.5 -41.8L1.9 -46.5L3.8 -48.7L7.9 -49.4L10 -51.8L10.9 -52.8L13.4 -56L15 -57.6L16.7 -58.4L19.2 -58.7L58.5 -57.3L117 -56.7"/><use href="#sk"/></g>
<g transform="translate(654.8 564.3)"><g clip-path="url(#ax)"><path d="M12.5 -54.9L16.7 -64.9L18.3 -66.6L19.2 -67.1L33.3 -69.5L100.5 -67.1L117 -64.6L117 -51L100.5 -53.5L34.1 -55.9L19.2 -53.5L16.7 -51.4L12.5 -54.9Z" fill="#1f77b4" fill-opacity="0.38"/><path d="M16.7 -59.7L19.2 -65.3L20.9 -67.9L33.3 -70L100.5 -67.6L117 -65.2L117 -51.6L100.5 -54L34.1 -56.4L20.9 -54.4L19.2 -57.2L16.7 -59.7Z" fill="#ff7f0e" fill-opacity="0.34"/></g><use href="#mn"/><use href="#fk"/><path class="cu" clip-path="url(#ax)" d="M0 5.2L0 0L0.1 -34.5L0.5 -41.8L1.9 -46.5L3.8 -48.7L7.9 -49.4L10 -51.8L10.9 -52.8L15.9 -58.9L17.6 -60.6L19.2 -61.7L20.9 -62.2L33.4 -64.2L99.5 -61.9L117 -59.4"/><use href="#sk"/></g>
<g transform="translate(834.2 564.3)"><g clip-path="url(#ax)"><path d="M12.5 -54.9L16.7 -65.7L19.2 -67.5L58.2 -67.5L88 -65.1L117 -64.2L117 -49.5L88 -50.4L58.2 -52.9L19.2 -52.9L16.7 -51.1L15 -53L12.5 -54.9Z" fill="#1f77b4" fill-opacity="0.38"/><path d="M16.7 -59.5L19.2 -64.4L20.9 -66.4L21.7 -66.5L58.2 -66.5L88 -64L117 -63.1L117 -51.6L88 -52.5L58.2 -55L20.9 -55L19.2 -57.5L16.7 -59.5Z" fill="#ff7f0e" fill-opacity="0.34"/></g><use href="#mn"/><use href="#fk"/><path class="cu" clip-path="url(#ax)" d="M0 5.2L0 0L0.1 -34.5L0.5 -41.8L1.9 -46.5L3.8 -48.7L7.9 -49.4L10 -51.8L10.9 -52.8L14.2 -57L15.9 -58.7L18.4 -60.7L20.1 -61.2L58.5 -61.2L87.8 -58.8L117 -57.9"/><use href="#sk"/></g>
<g transform="translate(1013.7 564.3)"><g clip-path="url(#ax)"><path d="M12.5 -54.9L16.7 -65.9L18.3 -67.7L19.2 -68.1L58.2 -67.2L74.7 -67.5L88 -65.1L108.7 -66.6L117 -68.1L117 -54L108.7 -52.5L88 -51L74.7 -53.4L58.2 -53.1L19.2 -54L16.7 -51.9L12.5 -54.9Z" fill="#1f77b4" fill-opacity="0.38"/><path d="M16.7 -59.7L19.2 -65L20.9 -67L58.2 -66.2L74.8 -66.5L88 -64.1L108.7 -65.6L117 -67.1L117 -55L108.7 -53.5L88 -52L74.8 -54.4L58.2 -54.1L21.7 -55L20.9 -55.1L19.2 -57.8L18.4 -58.7L16.7 -59.7Z" fill="#ff7f0e" fill-opacity="0.34"/></g><use href="#mn"/><use href="#fk"/><path class="cu" clip-path="url(#ax)" d="M0 5.2L0 0L0.1 -34.5L0.5 -41.8L1.9 -46.5L3.8 -48.7L7.9 -49.4L10 -51.8L10.9 -52.8L14.2 -57L16.7 -59.7L18.4 -61.2L20.1 -61.8L57.7 -61L74.4 -61.2L76.9 -60.9L86.9 -59L88.6 -58.9L107.8 -60.3L117 -61.8"/><use href="#sk"/></g>
<g transform="translate(1193.2 564.3)"><g clip-path="url(#ax)"><path d="M12.5 -54.9L15 -63L16.7 -67.3L19.2 -68.6L29.1 -67.2L37.4 -69.3L45.7 -68.7L58.2 -69.6L70.6 -68.1L79.7 -70.2L88 -69.3L100.5 -71.1L117 -71.7L117 -56L100.5 -55.4L88 -53.6L79.7 -54.5L70.6 -52.5L58.2 -53.9L45.7 -53L37.4 -53.6L29.1 -51.5L19.2 -53L16.7 -51.8L15 -53.7L12.5 -54.9Z" fill="#1f77b4" fill-opacity="0.38"/><path d="M16.7 -59.1L19.2 -64L20.9 -66.3L29.2 -65.1L37.4 -67.2L45.7 -66.6L58.2 -67.5L70.6 -66L79.7 -68.1L88 -67.2L100.5 -69L117 -69.6L117 -57.1L100.5 -56.5L88 -54.7L79.7 -55.5L70.6 -53.5L58.2 -54.9L45.7 -54.1L37.4 -54.6L29.2 -52.5L20.9 -53.8L19.2 -56.5L16.7 -59.1Z" fill="#ff7f0e" fill-opacity="0.34"/></g><use href="#mn"/><use href="#fr"/><path class="cu" clip-path="url(#ax)" d="M0 5.2L0 0L0.1 -34.5L0.5 -41.8L1.9 -46.5L3.8 -48.7L7.9 -49.4L10 -51.8L10.9 -52.8L15 -57.8L17.6 -59.5L19.2 -60.1L29.3 -59L37.6 -60.8L46 -60.4L58.5 -61.2L71.1 -59.9L79.4 -61.7L87.8 -61L100.3 -62.7L117 -63.4"/><use href="#sr"/></g>
<g transform="translate(1372.6 564.3)"><g clip-path="url(#ax)"><path d="M10.4 -52.3L14.6 -60.6L18.8 -64.3L37.1 -66.4L46.3 -65L54.6 -66.5L67.1 -65.6L92.1 -69.5L104.5 -68.9L112.9 -67.4L117 -68.9L117 -49.6L112.9 -48.1L104.5 -49.6L92.1 -50.2L67.1 -46.3L54.6 -47.1L46.3 -45.7L37.1 -47.1L18.8 -45L14.6 -41.4L10.4 -52.3Z" fill="#1f77b4" fill-opacity="0.38"/><path d="M10.4 -52.3L14.6 -44.2L18.8 -48L37.6 -50.1L46 -48.6L54.3 -50.1L66.9 -49.2L92 -53.1L104.5 -52.5L112.9 -51L117 -52.5" fill="none" stroke="#1f77b4" stroke-opacity="0.55" stroke-width="2.2"/><path d="M16.7 -59.5L19.2 -64.4L20.9 -66.7L29.2 -67.7L37.4 -68.6L45.7 -67.1L54 -68.5L67.3 -67.7L92.2 -71.6L104.6 -71L112.9 -69.5L117 -71L117 -61.1L112.9 -59.6L104.6 -61.1L92.2 -61.7L67.3 -57.8L54 -58.6L45.7 -57.2L37.4 -58.6L20.9 -56.8L19.2 -58.5L16.7 -59.5Z" fill="#ff7f0e" fill-opacity="0.34"/></g><use href="#mn"/><use href="#fr"/><path class="cu" clip-path="url(#ax)" d="M0 5.2L0 0L0.1 -34.5L0.5 -41.8L1.9 -46.5L3.8 -48.7L7.9 -49.4L10 -51.8L10.9 -52.8L14.2 -57L16.7 -59.5L18.4 -60.7L19.2 -61.1L20.9 -61.5L36.8 -63.2L38.5 -63.2L46 -62L54.3 -63.3L66.9 -62.5L78.6 -64.2L92 -66.3L103.7 -65.8L112 -64.5L113.7 -64.6L117 -65.8"/><use href="#sr"/></g>
<g transform="translate(1552 564.3)"><g clip-path="url(#ax)"><path d="M12.5 -54.9L16.7 -65.5L19.2 -67.2L29.1 -66.6L37.4 -68.1L49.9 -67.2L59 -68.8L71.4 -69.7L83.9 -71.2L96.3 -72.1L104.6 -71.2L112.9 -72.1L117 -69.6L117 -54.5L112.9 -56.9L104.6 -56L95.5 -56.9L59 -53.6L49.9 -52.1L37.4 -52.9L29.1 -51.4L19.2 -52L16.7 -50.5L15 -52.7L12.5 -54.9Z" fill="#1f77b4" fill-opacity="0.38"/><path d="M104.5 -64.9L112.3 -65.7L113.1 -65.6L117 -63.4L117 -48.1L104.5 -64.9Z" fill="#ff7f0e" fill-opacity="0.34"/><path d="M106.6 -65.1L113 -65.7L117 -63.4L117 -43.9L106.6 -65.1Z" fill="#1f77b4" fill-opacity="0.24"/></g><use href="#mn"/><use href="#fr"/><path class="cu" clip-path="url(#ax)" d="M0 5.2L0 0L0.1 -34.5L0.5 -41.8L1.9 -46.5L3.8 -48.7L7.9 -49.4L10 -51.8L10.9 -52.8L14.2 -57L15.9 -58.6L18.4 -60.4L20.1 -60.8L29.3 -60.4L36.8 -61.7L38.5 -61.8L50.2 -61L59.4 -62.5L71.1 -63.4L83.6 -64.9L95.3 -65.7L104.5 -65L112 -65.6L113.7 -65.2L117 -63.4"/><use href="#sr"/></g>
<g transform="translate(1731.5 564.3)"><g clip-path="url(#ax)"><path d="M12.5 -54.9L16.7 -64.5L19.2 -66.1L29.1 -64.7L37.4 -68.5L46.5 -67.2L71.3 -71.7L79.6 -74.1L87.8 -73.4L92 -67.9L92 -67.9L87.8 -60.5L79.6 -61L71.3 -58.6L46.5 -54.1L37.4 -55.4L29.1 -51.6L19.2 -53L16.7 -51.5L15 -53.4L12.5 -54.9Z" fill="#1f77b4" fill-opacity="0.38"/><path d="M92 -67.9L100.1 -65.9L108.9 -58.7L117 -54.2L117 -37.7L92 -67.9Z" fill="#1f77b4" fill-opacity="0.24"/><path d="M96.1 -66.9L100.2 -65.8L109 -58.6L117 -54.2L117 -45L96.1 -66.9Z" fill="#ff7f0e" fill-opacity="0.34"/><path d="M79.4 -68.8L99.9 -68.8L117 -62.8L117 -54.2L108.9 -58.7L99.9 -65.9L91.7 -67.9L79.4 -68.8Z" fill="#1f77b4" fill-opacity="0.24"/></g><use href="#mn"/><use href="#fr"/><path class="cu" clip-path="url(#ax)" d="M0 5.2L0 0L0.1 -34.5L0.5 -41.8L1.9 -46.5L3.8 -48.7L7.9 -49.4L10 -51.8L10.9 -52.8L15 -57.9L17.6 -59.9L19.2 -60.7L20.9 -60.6L27.6 -59.7L29.3 -59.7L30.9 -60.2L35.9 -62.6L37.6 -63.1L39.3 -63.1L45.1 -62L46.8 -62L70.2 -66.3L78.6 -68.6L80.3 -68.7L92 -67.9L99.5 -66L101.2 -65L108.7 -58.9L117 -54.2"/><use href="#sr"/></g>
<g transform="translate(1910.9 564.3)"><g clip-path="url(#ax)"><path d="M12.5 -54.9L16.7 -64.9L19.2 -67.1L29.1 -67.7L37.3 -69.4L50.5 -69.6L58.8 -71.7L70.4 -73.9L79.5 -75.2L83.6 -67.4L83.6 -67.4L79.5 -63.3L71.2 -62.1L58.8 -59.7L50.5 -57.6L37.3 -57.4L29.1 -55.6L19.2 -55.1L16.7 -53L15 -54L12.5 -54.9Z" fill="#1f77b4" fill-opacity="0.38"/><path d="M81.5 -68.7L89.8 -63.4L100.5 -55.6L117 -37.5L117 -20.9L81.5 -68.7Z" fill="#1f77b4" fill-opacity="0.24"/><path d="M83.6 -67.4L90.1 -63.2L99.9 -56.1L117 -37.5L117 -29.3L83.6 -67.4Z" fill="#ff7f0e" fill-opacity="0.34"/><path d="M79.4 -70.1L86 -69.8L117 -43.9L117 -37.5L99.9 -56.1L90.1 -63.2L79.4 -70.1Z" fill="#ff7f0e" fill-opacity="0.34"/><path d="M79.4 -70.1L88.4 -70.1L89.2 -69.6L117 -49.2L117 -43.9L86 -69.8L79.4 -70.1Z" fill="#1f77b4" fill-opacity="0.24"/></g><use href="#mn"/><use href="#fr"/><path class="cu" clip-path="url(#ax)" d="M0 5.2L0 0L0.1 -34.5L0.5 -41.8L1.9 -46.5L3.8 -48.7L7.9 -49.4L10 -51.8L10.9 -52.8L14.2 -57L16.7 -59.7L18.4 -61.2L20.1 -61.9L29.3 -62.5L37.6 -64.2L50.2 -64.4L59.4 -66.6L70.2 -68.7L77.7 -69.8L79.4 -69.8L81.1 -69L89.5 -63.6L100.3 -55.6L117 -37.5"/><use href="#sr"/></g>
<g transform="translate(2090.4 564.3)"><g clip-path="url(#ax)"><path d="M12.5 -54.9L15 -61.1L16.7 -66.9L29.1 -66.2L41.5 -70L50.5 -69.7L58.8 -72.6L67.1 -74.1L79.5 -74.5L83.6 -69.4L83.6 -69.4L79.5 -63.1L66.2 -62.5L58.8 -61.1L49.7 -58L41.5 -58.5L29.1 -54.7L16.7 -55.5L15 -54.3L12.5 -54.9Z" fill="#1f77b4" fill-opacity="0.38"/><path d="M77.3 -69.2L83.1 -69.4L83.9 -69L117 -28.4L117 -16.7L77.3 -69.2Z" fill="#1f77b4" fill-opacity="0.38"/><path d="M83.6 -69.4L93.6 -69.4L94.5 -69L117 -43.9L117 -28.4L83.6 -69.4Z" fill="#ff7f0e" fill-opacity="0.34"/><path d="M83.6 -69.4L97 -69.4L117 -48.1L117 -43.9L94.5 -69L93.6 -69.4L83.6 -69.4Z" fill="#1f77b4" fill-opacity="0.38"/></g><use href="#mn"/><use href="#fr"/><path class="cu" clip-path="url(#ax)" d="M0 5.2L0 0L0.1 -34.5L0.5 -41.8L1.9 -46.5L3.8 -48.7L7.9 -49.4L10 -51.8L10.9 -52.8L14.2 -57.1L16.7 -61L17.6 -61.5L18.4 -61.7L27.6 -61.1L29.3 -61.1L41 -64.6L42.6 -64.8L50.2 -64.4L58.5 -67.3L66 -68.7L69.4 -68.9L82.8 -69.3L83.6 -69L85.3 -67.4L117 -28.4"/><use href="#sr"/></g>
<g transform="translate(295.9 682.3)"><g clip-path="url(#ax)"><path d="M12.5 -54.9L15 -60.8L16.7 -65.7L17.5 -66L29.1 -68L82.8 -72.8L83.6 -72.8L87.8 -68.5L87.8 -68.5L83.6 -61.9L58.8 -59.5L29.1 -57L16.7 -54.9L15 -54.3L12.5 -54.9Z" fill="#1f77b4" fill-opacity="0.38"/><path d="M83.6 -68.1L90.1 -68.7L100.7 -66.1L108.9 -60.9L117 -52.6L117 -32.4L83.6 -68.1Z" fill="#1f77b4" fill-opacity="0.38"/><path d="M92 -68.3L100.1 -66.4L108.1 -61.5L117 -52.6L117 -43.9L92 -68.3Z" fill="#ff7f0e" fill-opacity="0.34"/><path d="M89.9 -68.8L104.7 -68.7L117 -62.8L117 -52.6L108.8 -61L100.6 -66.2L89.9 -68.8Z" fill="#1f77b4" fill-opacity="0.24"/></g><use href="#mn"/><use href="#fr"/><path class="cu" clip-path="url(#ax)" d="M0 5.2L0 0L0.1 -34.5L0.5 -41.8L1.9 -46.5L3.8 -48.7L7.9 -49.4L10 -51.8L10.9 -52.8L15 -58.3L16.7 -60.1L18.4 -61.2L20.1 -61.7L30.9 -63.4L58.5 -65.7L88.6 -68.5L92 -68.2L97 -67.1L99.5 -66.4L102 -65.2L106.2 -62.7L108.7 -60.9L111.2 -58.6L117 -52.6"/><use href="#sr"/></g>
<g transform="translate(475.3 682.3)"><g clip-path="url(#ax)"><path d="M12.5 -54.9L15 -60.8L16.7 -65.7L17.5 -66L29.1 -68L83.6 -74L87.8 -68.5L87.8 -68.5L83.6 -63.7L58.8 -60.6L29.1 -57.5L16.7 -55.4L15 -54.6L12.5 -54.9Z" fill="#1f77b4" fill-opacity="0.38"/><path d="M83.6 -69.4L89.3 -68.3L90.1 -67.8L117 -36.5L117 -31.4L83.6 -69.4Z" fill="#1f77b4" fill-opacity="0.24"/><path d="M83.6 -69.4L100.3 -69.4L117 -54.4L117 -36.5L90.3 -67.7L89.5 -68.2L83.6 -69.4Z" fill="#ff7f0e" fill-opacity="0.34"/><path d="M83.6 -69.4L102.8 -69.4L103.7 -69L117 -58.6L117 -54.4L100.3 -69.4L83.6 -69.4Z" fill="#1f77b4" fill-opacity="0.38"/></g><use href="#mn"/><use href="#fr"/><path class="cu" clip-path="url(#ax)" d="M0 5.2L0 0L0.1 -34.5L0.5 -41.8L1.9 -46.5L3.8 -48.7L7.9 -49.4L10 -51.8L10.9 -52.8L15 -58.3L16.7 -60.1L18.4 -61.2L20.1 -61.7L30.1 -63.3L58.5 -66.3L80.3 -69L83.6 -69.1L86.1 -68.9L87.8 -68.5L89.5 -67.7L92 -65.6L117 -36.5"/><use href="#sr"/></g>
<g transform="translate(654.8 682.3)"><g clip-path="url(#ax)"><path d="M12.5 -54.9L16.7 -64.6L19.2 -66.4L29.1 -67.9L58.8 -69.5L79.5 -73.1L83.6 -72.7L87.8 -67.2L87.8 -67.2L83.6 -60.8L79.5 -61L58 -57.4L29.1 -55.8L19.2 -54.4L16.7 -52.7L15 -54L12.5 -54.9Z" fill="#1f77b4" fill-opacity="0.38"/><path d="M87.8 -67.2L91.8 -66.9L104 -63.4L117 -56.6L117 -26.8L87.8 -67.2Z" fill="#1f77b4" fill-opacity="0.24"/><path d="M96.1 -65.7L104.2 -63.4L117 -56.6L117 -41.8L96.1 -65.7Z" fill="#ff7f0e" fill-opacity="0.34"/></g><use href="#mn"/><use href="#fr"/><path class="cu" clip-path="url(#ax)" d="M0 5.2L0 0L0.1 -34.5L0.5 -41.8L1.9 -46.5L3.8 -48.7L7.9 -49.4L10 -51.8L10.9 -52.8L14.2 -56.9L16.7 -59.3L18.4 -60.5L20.9 -61.4L30.1 -62.7L58.5 -64.3L76.9 -67.4L79.4 -67.7L82.8 -67.6L91.1 -66.9L94.5 -66.2L101.2 -64.2L103.7 -63.4L106.2 -62.3L117 -56.6"/><use href="#sr"/></g>
<g transform="translate(834.2 682.3)"><g clip-path="url(#ax)"><path d="M12.5 -54.9L15 -61.8L16.7 -65.2L19.2 -66.5L41.5 -68L58.9 -68.1L87.9 -74.1L92 -73.5L96.1 -66.8L96.1 -66.8L92 -60.1L87.9 -60.5L58.9 -54.5L41.5 -54.4L19.2 -52.9L16.7 -51.7L15 -53.7L12.5 -54.9Z" fill="#1f77b4" fill-opacity="0.38"/><path d="M96.1 -66.8L100.2 -66.3L109 -66.8L117 -64.8L117 -37.4L96.1 -66.8Z" fill="#1f77b4" fill-opacity="0.38"/><path d="M100.3 -66.3L109.1 -66.8L117 -64.8L117 -47.1L100.3 -66.3Z" fill="#ff7f0e" fill-opacity="0.34"/></g><use href="#mn"/><use href="#fr"/><path class="cu" clip-path="url(#ax)" d="M0 5.2L0 0L0.1 -34.5L0.5 -41.8L1.9 -46.5L3.8 -48.7L7.9 -49.4L10 -51.8L10.9 -52.8L14.2 -56.9L15.9 -58.3L18.4 -59.7L20.9 -60.3L41 -61.7L58.5 -61.9L70.2 -64L85.3 -67.3L87.8 -67.6L90.3 -67.5L100.3 -66.5L108.7 -66.7L111.2 -66.3L117 -64.8"/><use href="#sr"/></g>
<g transform="translate(1013.7 682.3)"><g clip-path="url(#ax)"><path d="M12.5 -54.9L16.7 -65.6L19.2 -67.5L29.1 -68.9L58.8 -69L83.6 -73.1L87.8 -66.9L87.8 -66.9L83.6 -59.7L58.8 -55.4L29.1 -55.3L19.2 -53.9L16.7 -52.1L15 -53.7L12.5 -54.9Z" fill="#1f77b4" fill-opacity="0.38"/><path d="M83.6 -66.9L108.9 -66.8L117 -62.7L117 -26.8L83.6 -66.9Z" fill="#1f77b4" fill-opacity="0.38"/><path d="M89.9 -66.9L108.8 -66.9L117 -62.7L117 -36.6L89.9 -66.9Z" fill="#ff7f0e" fill-opacity="0.34"/><path d="M94 -66.9L108.8 -66.8L117 -62.7L117 -43.9L94 -66.9Z" fill="#1f77b4" fill-opacity="0.24"/></g><use href="#mn"/><use href="#fr"/><path class="cu" clip-path="url(#ax)" d="M0 5.2L0 0L0.1 -34.5L0.5 -41.8L1.9 -46.5L3.8 -48.7L7.9 -49.4L10 -51.8L10.9 -52.8L15 -57.8L16.7 -59.3L18.4 -60.5L20.9 -61.4L28.4 -62.5L31.8 -62.7L58.5 -62.8L81.9 -66.6L86.9 -66.9L105.3 -66.9L107.8 -66.7L110.4 -66L117 -62.7"/><use href="#sr"/></g>
<g transform="translate(1193.2 682.3)"><g clip-path="url(#ax)"><path d="M12.5 -54.9L16.7 -64.6L19.2 -66.4L58 -69.4L71.2 -73.1L83.6 -73L87.8 -67.8L87.8 -67.8L83.6 -61.1L71.2 -61L58 -57.3L19.2 -54.4L16.7 -52.7L15 -54L12.5 -54.9Z" fill="#1f77b4" fill-opacity="0.38"/><path d="M83.6 -67.8L99.9 -67.8L100.7 -67.5L117 -54.2L117 -28.2L83.6 -67.8Z" fill="#1f77b4" fill-opacity="0.24"/><path d="M89.9 -67.8L100.6 -67.6L117 -54.2L117 -37.7L89.9 -67.8Z" fill="#ff7f0e" fill-opacity="0.34"/><path d="M71.5 -67.8L110.4 -67.8L111.2 -67.5L117 -62.8L117 -54.2L100.5 -67.7L71.5 -67.8Z" fill="#1f77b4" fill-opacity="0.24"/></g><use href="#mn"/><use href="#fr"/><path class="cu" clip-path="url(#ax)" d="M0 5.2L0 0L0.1 -34.5L0.5 -41.8L1.9 -46.5L3.8 -48.7L7.9 -49.4L10 -51.8L10.9 -52.8L14.2 -56.9L15.9 -58.6L18.4 -60.4L20.1 -61L21.7 -61.3L30.9 -61.9L56.8 -64.1L60.2 -64.7L70.2 -67.5L74.4 -67.8L97 -67.8L99.5 -67.5L101.2 -66.9L102.8 -65.7L117 -54.2"/><use href="#sr"/></g>
<g transform="translate(1372.6 682.3)"><g clip-path="url(#ax)"><path d="M12.5 -54.9L16.7 -65.6L19.1 -67.5L29.1 -68.9L58 -70.4L67 -72.6L74.5 -72.8L75.3 -72.7L79.4 -66.6L79.4 -66.6L75.3 -59.8L67 -59.5L58 -57.4L29.1 -55.8L19.1 -54.4L16.7 -52.7L15 -54L12.5 -54.9Z" fill="#1f77b4" fill-opacity="0.38"/><path d="M75.2 -66.5L95.7 -66.9L96.5 -66.4L117 -42L117 -14.6L75.2 -66.5Z" fill="#1f77b4" fill-opacity="0.38"/><path d="M81.5 -66.6L95.6 -66.9L96.4 -66.6L117 -42L117 -25.1L81.5 -66.6Z" fill="#ff7f0e" fill-opacity="0.34"/><path d="M96.1 -66.9L104.5 -66.9L117 -56.5L117 -42L96.1 -66.9Z" fill="#1f77b4" fill-opacity="0.24"/></g><use href="#mn"/><use href="#fr"/><path class="cu" clip-path="url(#ax)" d="M0 5.2L0 0L0.1 -34.5L0.5 -41.8L1.9 -46.5L3.8 -48.7L7.9 -49.4L10 -51.8L10.9 -52.8L14.2 -56.9L16.7 -59.3L19.2 -60.9L21.7 -61.6L30.1 -62.7L56.8 -64.1L60.2 -64.6L66 -66L68.6 -66.3L93.6 -66.8L95.3 -66.5L96.1 -66.1L98.6 -63.9L117 -42"/><use href="#sr"/></g>
<g transform="translate(1552 682.3)"><g clip-path="url(#ax)"><path d="M12.5 -54.9L15 -61.1L16.7 -66.2L17.5 -66.5L58 -71.5L71.2 -74.5L79.5 -72.2L83.6 -72.1L87.8 -66.9L87.8 -66.9L83.6 -61.2L79.5 -61.2L71.2 -63.6L58 -60.5L17.5 -55.5L15 -54.6L12.5 -54.9Z" fill="#1f77b4" fill-opacity="0.38"/><path d="M83.6 -66.9L87.7 -66.9L117 -29.8L117 -24.1L83.6 -66.9Z" fill="#1f77b4" fill-opacity="0.24"/><path d="M71.1 -69.4L98.2 -69.4L117 -48.1L117 -29.8L88.3 -66.3L87.5 -66.9L79.3 -67L71.1 -69.4Z" fill="#ff7f0e" fill-opacity="0.34"/><path d="M71.1 -69.4L102.3 -69.4L117 -54.4L117 -48.1L98.2 -69.4L71.1 -69.4Z" fill="#1f77b4" fill-opacity="0.24"/></g><use href="#mn"/><use href="#fr"/><path class="cu" clip-path="url(#ax)" d="M0 5.2L0 0L0.1 -34.5L0.5 -41.8L1.9 -46.5L3.8 -48.7L7.9 -49.4L10 -51.8L10.9 -52.8L15 -58.2L16.7 -60L18.4 -61.1L20.1 -61.5L56.8 -66.1L70.2 -69L72.7 -68.8L79.4 -67.1L86.1 -66.7L87.8 -66L90.3 -63.7L117 -29.8"/><use href="#sr"/></g>
<g transform="translate(1731.5 682.3)"><g clip-path="url(#ax)"><path d="M12.5 -54.9L16.7 -64.5L19.1 -66.3L29 -65.5L37.3 -68.4L50.5 -69.5L58.7 -72.2L71.1 -75.1L75.2 -68.9L75.2 -68.9L71.1 -63.2L58.7 -60.2L50.5 -57.5L38.1 -56.5L29 -53.5L19.1 -54.3L16.7 -52.7L15 -54L12.5 -54.9Z" fill="#1f77b4" fill-opacity="0.38"/><path d="M71.1 -70L79.3 -67.9L91.6 -59L117 -28.3L117 -14.6L71.1 -70Z" fill="#1f77b4" fill-opacity="0.38"/><path d="M71.1 -70L98.2 -70L117 -49.2L117 -28.3L91.6 -59L79.3 -67.9L71.1 -70Z" fill="#ff7f0e" fill-opacity="0.34"/><path d="M71.1 -70L101.4 -70L117 -53.3L117 -49.2L98.2 -70L71.1 -70Z" fill="#1f77b4" fill-opacity="0.38"/></g><use href="#mn"/><use href="#fr"/><path class="cu" clip-path="url(#ax)" d="M0 5.2L0 0L0.1 -34.5L0.5 -41.8L1.9 -46.5L3.8 -48.7L7.9 -49.4L10 -51.8L10.9 -52.8L15 -57.8L17.6 -59.9L19.2 -60.6L20.9 -60.9L26.8 -60.5L29.3 -60.6L38.5 -63.2L50.2 -64.4L59.4 -67.1L68.6 -69.3L71.1 -69.6L74.4 -69.1L78.6 -67.9L81.1 -66.5L89.5 -60.5L92 -58.4L95.3 -54.7L117 -28.3"/><use href="#sr"/></g>
<g transform="translate(1910.9 682.3)"><g clip-path="url(#ax)"><path d="M12.5 -54.9L16.7 -66.2L29 -64.6L37.3 -68.4L49.7 -69.4L58.7 -73.1L71.1 -74.8L72.8 -73L75.2 -69L75.2 -69L72.8 -65.3L71.1 -61.9L58.7 -60L49.7 -56.3L37.3 -55.3L29 -51.5L15 -53.4L12.5 -54.9Z" fill="#1f77b4" fill-opacity="0.38"/><path d="M71.1 -69.7L73.5 -69.8L79.3 -67L117 -20.1L117 -15.7L71.1 -69.7Z" fill="#1f77b4" fill-opacity="0.38"/><path d="M73.1 -70L102.1 -70L103 -69.1L117 -47.1L117 -20.1L79.8 -66.5L78.9 -67.2L73.1 -70Z" fill="#ff7f0e" fill-opacity="0.34"/><path d="M73.1 -70L105.4 -70L106.3 -69.1L117 -51.3L117 -47.1L103 -69.1L102.1 -70L73.1 -70Z" fill="#1f77b4" fill-opacity="0.38"/></g><use href="#mn"/><use href="#fr"/><path class="cu" clip-path="url(#ax)" d="M0 5.2L0 0L0.1 -34.5L0.5 -41.8L1.9 -46.5L3.8 -48.7L7.9 -49.4L10 -51.8L10.9 -52.8L15.9 -59.1L16.7 -59.9L18.4 -60.6L20.1 -60.7L26.8 -59.7L29.3 -59.8L30.9 -60.2L37.6 -63L40.1 -63.4L47.7 -64L50.2 -64.4L57.7 -67.4L60.2 -68L71.1 -69.6L72.7 -69.6L74.4 -69.2L76.9 -68.1L78.6 -67.1L80.3 -65.6L81.9 -63.8L117 -20.1"/><use href="#sr"/></g>
<g transform="translate(2090.4 682.3)"><g clip-path="url(#ax)"><path d="M12.5 -54.9L15 -61.1L16.7 -66.8L29 -66.4L38.1 -69.5L58.7 -72.2L66.1 -72.8L66.9 -72.8L71.1 -68L71.1 -68L66.9 -62L38.1 -58.5L29 -55.4L16.7 -56L15 -54.6L12.5 -54.9Z" fill="#1f77b4" fill-opacity="0.38"/><path d="M66.9 -67.7L79.2 -68.7L80 -68L117 -25.3L117 4.2L66.9 -67.7Z" fill="#1f77b4" fill-opacity="0.38"/><path d="M79.4 -68.8L85.1 -68.8L86 -68.4L117 -33.5L117 -25.3L79.4 -68.8Z" fill="#1f77b4" fill-opacity="0.24"/></g><use href="#mn"/><use href="#fr"/><path class="cu" clip-path="url(#ax)" d="M0 5.2L0 0L0.1 -34.5L0.5 -41.8L1.9 -46.5L3.8 -48.7L7.9 -49.4L10 -51.8L10.9 -52.8L13.4 -56L15 -58.4L16.7 -60.3L17.6 -60.9L19.2 -61.5L28.4 -61.3L30.9 -61.8L36.8 -63.8L40.1 -64.5L60.2 -67.1L76.1 -68.5L78.6 -68.2L80.3 -67.3L82.8 -64.9L117 -25.3"/><use href="#sr"/></g>
<g transform="translate(295.9 800.3)"><g clip-path="url(#ax)"><path d="M12.5 -54.9L16.7 -63.7L29.1 -68.3L41.6 -70.8L56.5 -72.9L62.3 -71.2L63.1 -70.6L117 -4.8L117 6.3L111.2 6.1L54 -63.4L50.7 -64.2L41.6 -62.9L30 -60.7L16.7 -56L12.5 -54.9Z" fill="#1f77b4" fill-opacity="0.38"/><path d="M54.3 -69L56.8 -69.7L70 -71.7L75.8 -70.1L117 -20.1L117 2.5L71.7 -52.8L62.6 -65.7L56.8 -68.6L54.3 -69Z" fill="#ff7f0e" fill-opacity="0.34"/><path d="M56.4 -69.3L68.9 -70.4L73 -69.6L75.5 -68.7L117 -18L117 -11.4L71.4 -67.1L70.5 -67.6L64.7 -69.2L56.4 -69.3Z" fill="#1f77b4" fill-opacity="0.38"/></g><use href="#mn"/><use href="#fr"/><path class="cu" clip-path="url(#ax)" d="M0 5.2L0 0L0.1 -34.5L0.5 -41.8L1.9 -46.5L3.8 -48.7L7.9 -49.4L10 -51.8L10.9 -52.8L15 -58L17.6 -60.1L20.1 -61.4L28.4 -64.3L31.8 -65.2L41 -67L54.3 -68.9L56 -69L57.7 -68.8L61 -67.8L63.5 -66.1L66 -63.4L117 -1.2"/><use href="#sr"/></g>
<g transform="translate(475.3 800.3)"><g clip-path="url(#ax)"><path d="M12.5 -54.9L16.7 -63.7L29.1 -66.8L41.6 -69.2L54 -72.2L60.6 -73.5L68.9 -69.9L117 -10.6L117 5L62.3 -62.5L55.7 -65.3L41.6 -61.9L29.1 -59.5L16.7 -56.5L12.5 -54.9Z" fill="#1f77b4" fill-opacity="0.24"/><path d="M54.3 -68.7L60.9 -70.9L71.7 -72.5L77.4 -72.3L84.9 -69L85.7 -68.3L117 -29.7L117 -3.3L71.7 -59.2L69.2 -62.7L60.9 -68.3L54.3 -68.7Z" fill="#ff7f0e" fill-opacity="0.34"/><path d="M58.5 -69.5L61 -70.1L75 -71.4L79.9 -71.4L88.2 -67.8L117 -32.2L117 -25L83.2 -66.4L75 -69.8L61 -69.9L58.5 -69.5Z" fill="#1f77b4" fill-opacity="0.38"/></g><use href="#mn"/><use href="#fr"/><path class="cu" clip-path="url(#ax)" d="M0 5.2L0 0L0.1 -34.5L0.5 -41.8L1.9 -46.5L3.8 -48.7L7.9 -49.4L10 -51.8L10.9 -52.8L14.2 -57L15.9 -58.7L17.6 -60L20.1 -61L29.3 -63.2L41.8 -65.7L57.7 -69.3L59.4 -69.5L61 -69.4L64.4 -68.2L66.9 -67.1L68.6 -66L71.1 -63.6L117 -6.9"/><use href="#sr"/></g>
<g transform="translate(654.8 800.3)"><g clip-path="url(#ax)"><path d="M12.5 -54.9L16.7 -64.3L41.6 -69.2L70.6 -72.9L71.4 -72.7L75.6 -69.4L117 -14.5L117 4.4L67.3 -61.5L64 -64.2L41.6 -61.4L16.7 -56.5L15 -55.5L12.5 -54.9Z" fill="#1f77b4" fill-opacity="0.38"/><path d="M62.7 -68.3L70.9 -71.3L79.2 -73.4L83.3 -73.4L84.1 -73.1L88.2 -69.8L117 -31.7L117 -7.2L80 -56.3L75 -63.7L70.9 -67.4L62.7 -68.3Z" fill="#1f77b4" fill-opacity="0.24"/><path d="M62.7 -68.3L70.9 -71.1L79.2 -72.8L80.8 -72.8L84.1 -70.4L84.9 -69.8L117 -27.3L117 0L80 -49.1L70.1 -64.2L66.8 -67.5L66 -67.9L62.7 -68.3Z" fill="#ff7f0e" fill-opacity="0.34"/></g><use href="#mn"/><use href="#fr"/><path class="cu" clip-path="url(#ax)" d="M0 5.2L0 0L0.1 -34.5L0.5 -41.8L1.9 -46.5L3.8 -48.7L7.9 -49.4L10 -51.8L10.9 -52.8L15 -58.1L16.7 -59.8L18.4 -60.9L20.1 -61.4L39.3 -65.1L44.3 -65.9L67.7 -68.9L70.2 -68.9L71.9 -68.3L74.4 -66.6L77.7 -62.9L117 -10.9"/><use href="#sr"/></g>
<g transform="translate(834.2 800.3)"><g clip-path="url(#ax)"><path d="M12.5 -54.9L15 -60.8L16.7 -63.3L41.6 -66.3L58.2 -67.9L67.3 -70.4L74.7 -71.8L89.7 -71.8L117 -39L117 -11.4L75.6 -61.5L74.7 -61.8L67.3 -60.5L58.2 -57.9L41.6 -56.4L17.5 -53.5L16.7 -53.4L15 -54.9L12.5 -54.9Z" fill="#1f77b4" fill-opacity="0.38"/><path d="M75.2 -67.1L91.6 -71.8L102.3 -71.8L117 -54.2L117 -30.6L92.5 -60.4L90 -63.8L75.2 -67.1Z" fill="#1f77b4" fill-opacity="0.24"/><path d="M75.2 -67.1L91.6 -70.7L102.3 -70.8L117 -53.1L117 -16.5L92.5 -46.2L78.5 -66L77.7 -66.6L75.2 -67.1Z" fill="#ff7f0e" fill-opacity="0.34"/></g><use href="#mn"/><use href="#fr"/><path class="cu" clip-path="url(#ax)" d="M0 5.2L0 0L0.1 -34.5L0.5 -41.8L1.9 -46.5L3.8 -48.7L7.9 -49.4L10 -51.8L10.9 -52.8L14.2 -56.8L16.7 -58.3L18.4 -58.8L41 -61.6L57.7 -63.2L67.7 -65.7L74.4 -66.9L78.6 -67.1L87.8 -67L89.5 -66.5L90.3 -66L92.8 -63.6L117 -34.3"/><use href="#sr"/></g>
<g transform="translate(1013.7 800.3)"><g clip-path="url(#ax)"><path d="M12.5 -54.9L16.7 -65.8L17.5 -66.1L42.2 -69.1L54.5 -71.5L62.8 -73.8L66.9 -67.6L66.9 -67.6L62.8 -61.9L54.5 -59.5L41.4 -56.9L16.7 -54L15 -54L12.5 -54.9Z" fill="#1f77b4" fill-opacity="0.38"/><path d="M62.7 -68.7L79.2 -67.4L87.4 -65.9L88.2 -65.2L117 -27.8L117 4L80 -44.2L69.3 -60.9L68.5 -61.7L62.7 -64.4Z" fill="#1f77b4" fill-opacity="0.24"/><path d="M62.7 -68.7L79.2 -71.2L92.3 -68.2L103.9 -65.9L104.7 -65.6L117 -49.5L117 -5.2L80 -53.4L75 -60.5L62.7 -65.6Z" fill="#ff7f0e" fill-opacity="0.34"/><path d="M66.9 -68.7L83.3 -70.1L95.7 -67.1L107.2 -64.9L108 -64.6L117 -52.8L117 -45.8L103.9 -62.9L103.1 -63.3L90.7 -65.7L79.2 -68.5L66.9 -68.7Z" fill="#1f77b4" fill-opacity="0.38"/></g><use href="#mn"/><use href="#fr"/><path class="cu" clip-path="url(#ax)" d="M0 5.2L0 0L0.1 -34.5L0.5 -41.8L1.9 -46.5L3.8 -48.7L7.9 -49.4L10 -51.8L10.9 -52.8L15.9 -59L17.6 -60.3L19.2 -61L42.6 -64L53.5 -66.1L61.9 -68.2L63.5 -68.3L65.2 -68L75.2 -65.7L85.3 -63.6L87.8 -62.4L90.3 -59.9L117 -25.2"/><use href="#sr"/></g>
<g transform="translate(1193.2 800.3)"><g clip-path="url(#ax)"><path d="M12.5 -54.9L16.7 -64.9L17.5 -65.1L29.1 -67.3L41.6 -68.9L70.6 -74L78.1 -74L83.9 -72L84.7 -71.1L117 -32.2L117 -2.8L66.4 -63.6L64 -64.4L63.1 -64.3L41.6 -60.5L29.1 -59L16.7 -56.5L15 -55.5L12.5 -54.9Z" fill="#1f77b4" fill-opacity="0.38"/><path d="M16.7 -60.8L20.9 -65.2L21.7 -65.4L29.2 -66.8L41.6 -68.3L70.6 -73.5L76.4 -73.5L77.2 -73.3L83 -71.1L117 -30.2L117 -5.8L69 -63.6L68.1 -64.2L64.8 -65.2L41.6 -61L29.2 -59.5L20.9 -57.9L16.7 -60.8Z" fill="#ff7f0e" fill-opacity="0.34"/></g><use href="#mn"/><use href="#fr"/><path class="cu" clip-path="url(#ax)" d="M0 5.2L0 0L0.1 -34.5L0.5 -41.8L1.9 -46.5L3.8 -48.7L7.9 -49.4L10 -51.8L10.9 -52.8L15 -58.1L16.7 -59.8L18.4 -60.9L20.1 -61.4L29.3 -63.1L42.6 -64.9L68.6 -69.4L71.1 -69.5L73.6 -69L75.2 -68.4L76.9 -67.4L79.4 -65.2L117 -20"/><use href="#sr"/></g>
<g transform="translate(1372.6 800.3)"><g clip-path="url(#ax)"><path d="M12.5 -54.9L16.7 -64.8L29.1 -67.9L42.4 -69.5L67.3 -73.4L90.5 -73.4L91.3 -73.1L117 -38.8L117 1.3L68.1 -64L42.4 -60.1L29.1 -58.4L16.7 -55.4L12.5 -54.9Z" fill="#1f77b4" fill-opacity="0.38"/><path d="M16.7 -60.1L20.9 -64.8L29.2 -66.8L42.4 -68.5L67.3 -72.3L89.7 -72.3L117 -36L117 -7.5L73.9 -65L66.5 -64.9L42.4 -61.1L29.2 -59.5L20.9 -57.5L16.7 -60.1Z" fill="#ff7f0e" fill-opacity="0.34"/></g><use href="#mn"/><use href="#fr"/><path class="cu" clip-path="url(#ax)" d="M0 5.2L0 0L0.1 -34.5L0.5 -41.8L1.9 -46.5L3.8 -48.7L7.9 -49.4L10 -51.8L10.9 -52.8L15 -57.9L17.6 -60L20.1 -61L27.6 -62.8L30.9 -63.4L55.2 -66.7L66.9 -68.5L77.7 -68.7L80.3 -68.3L81.9 -67.4L84.4 -64.7L117 -21.2"/><use href="#sr"/></g>
<g transform="translate(1552 800.3)"><g clip-path="url(#ax)"><path d="M12.5 -54.9L16.7 -64.8L17.5 -65L29.1 -67L42.4 -68L54 -70.3L67.3 -74L74.7 -73.9L86.4 -72.5L93 -69.5L93.8 -68.6L117 -38.7L117 -1.8L72.3 -59.5L71.4 -60.2L65.6 -63L63.1 -63.3L54 -60.8L42.4 -58.6L29.1 -57.5L12.5 -54.9Z" fill="#1f77b4" fill-opacity="0.38"/><path d="M16.7 -60.1L20.9 -64.5L29.2 -65.9L42.4 -67L54 -69.2L66.5 -72.8L73.1 -72.9L85.5 -71.3L91.3 -68.5L92.2 -67.6L117 -35.5L117 -5.5L73.9 -61.1L68.1 -63.9L64 -64.5L54 -61.9L42.4 -59.6L29.2 -58.6L20.9 -57.2L16.7 -60.1Z" fill="#ff7f0e" fill-opacity="0.34"/></g><use href="#mn"/><use href="#fr"/><path class="cu" clip-path="url(#ax)" d="M0 5.2L0 0L0.1 -34.5L0.5 -41.8L1.9 -46.5L3.8 -48.7L7.9 -49.4L10 -51.8L10.9 -52.8L14.2 -57L15.9 -58.7L17.6 -59.9L20.1 -60.7L29.3 -62.2L40.1 -63.1L43.5 -63.5L53.5 -65.5L64.4 -68.5L66.9 -69L70.2 -68.9L76.9 -68L79.4 -67.5L81.9 -66.5L84.4 -65.1L86.1 -63.8L87.8 -61.9L117 -24.3"/><use href="#sr"/></g>
<g transform="translate(1731.5 800.3)"><g clip-path="url(#ax)"><path d="M12.5 -54.9L16.7 -64.8L29.1 -65.5L37.4 -67.8L49.9 -68.8L68.9 -74L81.4 -73.9L88 -70.7L117 -37.9L117 -5L67.3 -61.1L64 -62.9L50.7 -59.5L37.4 -58.4L29.1 -56L16.7 -55.4L12.5 -54.9Z" fill="#1f77b4" fill-opacity="0.38"/><path d="M16.7 -60.1L20.9 -64L29.2 -64.4L37.4 -66.8L49.9 -67.7L69 -72.9L83 -72.8L88.9 -70L89.7 -69.2L117 -38.3L117 -9.3L69.8 -62.6L65.6 -64.6L49.9 -60.4L37.4 -59.5L29.2 -57.1L21.7 -56.7L20.9 -56.7L16.7 -60.1Z" fill="#ff7f0e" fill-opacity="0.34"/></g><use href="#mn"/><use href="#fr"/><path class="cu" clip-path="url(#ax)" d="M0 5.2L0 0L0.1 -34.5L0.5 -41.8L1.9 -46.5L3.8 -48.7L7.9 -49.4L10 -51.8L10.9 -52.8L15 -57.9L16.7 -59.3L18.4 -60L20.1 -60.3L28.4 -60.8L38.5 -63.2L50.2 -64.2L56.8 -65.8L66.9 -68.6L68.6 -68.7L70.2 -68.5L71.9 -67.8L74.4 -66.4L76.1 -65.1L77.7 -63.4L117 -19.1"/><use href="#sr"/></g>
<g transform="translate(1910.9 800.3)"><g clip-path="url(#ax)"><path d="M12.5 -54.9L16.7 -65.4L29.1 -66.4L37.4 -68.7L49.9 -70.3L59 -73.4L79.7 -73.2L85.5 -69.5L86.4 -68.5L117 -28.6L117 2.6L68.9 -60L63.1 -63.7L62.3 -64L58.2 -63.8L49.9 -60.9L37.4 -59.3L29.1 -56.9L16.7 -56L15 -55.2L12.5 -54.9Z" fill="#1f77b4" fill-opacity="0.38"/><path d="M16.7 -60.8L20.9 -64.7L29.2 -65.3L37.4 -67.7L49.9 -69.2L58.2 -72.2L77.2 -72.3L78.1 -72.1L83.9 -68.5L84.7 -67.5L117 -25.4L117 -0.6L70.6 -61.1L64.8 -64.7L64 -65L58.2 -64.9L49.9 -61.9L37.4 -60.4L29.2 -58L20.9 -57.4L16.7 -60.8Z" fill="#ff7f0e" fill-opacity="0.34"/></g><use href="#mn"/><use href="#fr"/><path class="cu" clip-path="url(#ax)" d="M0 5.2L0 0L0.1 -34.5L0.5 -41.8L1.9 -46.5L3.8 -48.7L7.9 -49.4L10 -51.8L10.9 -52.8L15.9 -59L17.6 -60.3L19.2 -60.9L28.4 -61.7L38.5 -64.1L49.3 -65.6L51.8 -66.3L56.8 -68L59.4 -68.5L67.7 -68.7L69.4 -68.6L71.1 -68.2L72.7 -67.5L75.2 -66L77.7 -63.8L79.4 -61.9L117 -13"/><use href="#sr"/></g>
<g transform="translate(2090.4 800.3)"><g clip-path="url(#ax)"><path d="M12.5 -54.9L16.7 -64.9L29.1 -65.8L37.4 -68.2L49.9 -71.3L58.2 -73.9L65.6 -74L73.1 -72.9L86.4 -65.5L117 -25.8L117 5.7L68.1 -57.2L55.7 -64L29.1 -56.9L16.7 -56L15 -55.2L12.5 -54.9Z" fill="#1f77b4" fill-opacity="0.38"/><path d="M16.7 -60.8L20.9 -64.7L29.2 -65.3L37.4 -67.7L49.9 -70.7L58.2 -73.4L64 -73.5L72.3 -72.3L84.7 -65.4L117 -23.7L117 1.5L70.6 -58.3L59 -64.7L56.5 -65.3L55.7 -65.3L49.9 -63.4L37.4 -60.4L29.2 -58L20.9 -57.4L16.7 -60.8Z" fill="#ff7f0e" fill-opacity="0.34"/></g><use href="#mn"/><use href="#fr"/><path class="cu" clip-path="url(#ax)" d="M0 5.2L0 0L0.1 -34.5L0.5 -41.8L1.9 -46.5L3.8 -48.7L7.9 -49.4L10 -51.8L10.9 -52.8L15 -58.1L16.7 -59.7L18.4 -60.6L20.1 -61L26.8 -61.5L30.1 -62L38.5 -64.3L49.3 -67L57.7 -69.4L59.4 -69.6L61 -69.5L64.4 -69L66.9 -68.4L69.4 -67.2L76.9 -63L78.6 -61.9L80.3 -60.3L82.8 -57.3L117 -13"/><use href="#sr"/></g>
<g transform="translate(295.9 918.2)"><g clip-path="url(#ax)"><path d="M12.5 -54.9L16.7 -64.2L17.5 -64.5L29.1 -68.1L55.7 -73.8L68.1 -74L117 -15.6L117 6.3L111.2 6.3L110.4 5.7L51.5 -64.5L29.1 -59.8L16.7 -55.9L12.5 -54.9Z" fill="#1f77b4" fill-opacity="0.38"/><path d="M16.7 -60.1L20.9 -65L29.2 -67.6L55.7 -73.3L65.6 -73.4L66.5 -72.9L117 -12.6L117 6.3L112.9 6.3L112.1 5.7L52.4 -65.3L29.2 -60.3L20.9 -57.7L16.7 -60.1Z" fill="#ff7f0e" fill-opacity="0.34"/></g><use href="#mn"/><use href="#fr"/><path class="cu" clip-path="url(#ax)" d="M0 5.2L0 0L0.1 -34.5L0.5 -41.8L1.9 -46.5L3.8 -48.7L7.9 -49.4L10 -51.8L10.9 -52.8L14.2 -57L15.9 -58.7L17.6 -60L20.1 -61.1L30.9 -64.4L52.6 -69L55.1 -69.2L56.8 -68.6L58.5 -67.2L60.2 -65.3L122 8.4"/><use href="#sr"/></g>
<g transform="translate(475.3 918.2)"><g clip-path="url(#ax)"><path d="M12.5 -54.9L16.7 -64.2L41.6 -70.3L49.9 -73.3L59.8 -73.9L68.9 -74L117 -16.2L117 6.3L109.6 6.3L50.7 -64.5L49.9 -64.9L41.6 -61.9L12.5 -54.9Z" fill="#1f77b4" fill-opacity="0.38"/><path d="M16.7 -60.1L20.9 -64.7L41.6 -69.7L49.9 -72.7L59.8 -73.4L67.3 -73.4L117 -13.7L117 6.3L112.1 6.3L111.2 5.8L52.4 -65L51.5 -65.6L49.9 -65.4L41.6 -62.4L20.9 -57.4L16.7 -60.1Z" fill="#ff7f0e" fill-opacity="0.34"/></g><use href="#mn"/><use href="#fr"/><path class="cu" clip-path="url(#ax)" d="M0 5.2L0 0L0.1 -34.5L0.5 -41.8L1.9 -46.5L3.8 -48.7L7.9 -49.4L10 -51.8L10.9 -52.8L15 -57.9L16.7 -59.4L19.2 -60.6L40.1 -65.7L50.2 -69L52.7 -69.3L57.7 -69.6L59.4 -69.4L60.2 -69.1L61.9 -68L64.4 -65.3L117 -2"/><use href="#sr"/></g>
<g transform="translate(654.8 918.2)"><g clip-path="url(#ax)"><path d="M12.5 -54.9L16.7 -65.1L29.1 -67.3L54 -73.3L62.3 -73.9L72.3 -74L117 -20.9L117 6.3L116.2 5.8L56.5 -65L54 -64.9L29.1 -58.9L16.7 -56.8L15 -55.5L12.5 -54.9Z" fill="#1f77b4" fill-opacity="0.38"/><path d="M16.7 -61L20.9 -65.3L29.2 -66.7L54 -72.8L62.3 -73.4L69.8 -73.4L70.6 -73L117 -17.9L117 3.8L58.2 -65.8L54 -65.4L29.2 -59.4L20.9 -58L16.7 -61Z" fill="#ff7f0e" fill-opacity="0.34"/></g><use href="#mn"/><use href="#fr"/><path class="cu" clip-path="url(#ax)" d="M0 5.2L0 0L0.1 -34.5L0.5 -41.8L1.9 -46.5L3.8 -48.7L7.9 -49.4L10 -51.8L10.9 -52.8L15.9 -59.1L17.6 -60.6L19.2 -61.3L30.1 -63.3L53.5 -68.9L56.8 -69.4L60.2 -69.5L61.9 -69.3L62.7 -68.9L64.4 -67.6L66 -65.8L117 -5.3"/><use href="#sr"/></g>
<g transform="translate(834.2 918.2)"><g clip-path="url(#ax)"><path d="M12.5 -54.9L16.7 -64.2L41.6 -68.8L54 -71.8L64.8 -74L71.4 -74L117 -20.4L117 6.3L116.2 6.1L56.5 -63.9L41.6 -60.4L29.1 -58.3L12.5 -54.9Z" fill="#1f77b4" fill-opacity="0.38"/><path d="M16.7 -60.1L20.9 -64.5L41.6 -68.2L64 -73.3L69.8 -73.4L117 -17.9L117 1.7L60.7 -64.6L59.8 -65.1L41.6 -60.9L20.9 -57.2L16.7 -60.1Z" fill="#ff7f0e" fill-opacity="0.34"/></g><use href="#mn"/><use href="#fr"/><path class="cu" clip-path="url(#ax)" d="M0 5.2L0 0L0.1 -34.5L0.5 -41.8L1.9 -46.5L3.8 -48.7L7.9 -49.4L10 -51.8L10.9 -52.8L15 -57.9L16.7 -59.3L19.2 -60.5L28.4 -62.3L41.8 -64.7L54.3 -67.6L61 -69L62.7 -69.2L64.4 -69L66 -68L68.6 -65.4L117 -8.4"/><use href="#sr"/></g>
<g transform="translate(1013.7 918.2)"><g clip-path="url(#ax)"><path d="M12.5 -54.9L16.7 -65.6L17.5 -65.8L41.6 -69.9L54.8 -73.3L63.1 -73.9L76.4 -73.9L84.7 -72.1L117 -31.8L117 6.3L113.7 6.3L112.9 5.3L59 -62.1L58.2 -62.7L54 -63.6L53.2 -63.6L41.6 -60.5L16.7 -56.2L15 -55.2L12.5 -54.9Z" fill="#1f77b4" fill-opacity="0.38"/><path d="M16.7 -61L20.9 -65.3L41.6 -68.8L54 -72.1L62.3 -72.8L73.9 -72.8L82.2 -71.1L83 -70.7L117 -28.2L117 5.8L61.5 -63.6L54.9 -64.9L41.6 -61.5L20.9 -58L16.7 -61Z" fill="#ff7f0e" fill-opacity="0.34"/></g><use href="#mn"/><use href="#fr"/><path class="cu" clip-path="url(#ax)" d="M0 5.2L0 0L0.1 -34.5L0.5 -41.8L1.9 -46.5L3.8 -48.7L7.9 -49.4L10 -51.8L10.9 -52.8L15.9 -59.1L17.6 -60.6L19.2 -61.3L41 -65.1L51.8 -67.9L55.2 -68.6L60.2 -69L62.7 -69L66 -68.4L69.4 -67.6L71.1 -66.6L71.9 -65.9L74.4 -63.2L117 -9.9"/><use href="#sr"/></g>
<g transform="translate(1193.2 918.2)"><g clip-path="url(#ax)"><path d="M12.5 -54.9L16.7 -65.1L41.6 -69.4L54 -72.7L60.6 -74L68.9 -74L74.7 -72.8L75.6 -72.3L117 -22.1L117 5.6L59.8 -63.8L59 -64.5L56.5 -64.8L41.6 -61L16.7 -56.8L15 -55.5L12.5 -54.9Z" fill="#1f77b4" fill-opacity="0.38"/><path d="M16.7 -61L20.9 -65.3L41.6 -68.8L54.9 -72.3L60.7 -73.4L67.3 -73.4L73.1 -72.3L73.9 -71.8L117 -19.5L117 2.5L61.5 -64.9L57.3 -65.5L41.6 -61.5L20.9 -58L16.7 -61Z" fill="#ff7f0e" fill-opacity="0.34"/></g><use href="#mn"/><use href="#fr"/><path class="cu" clip-path="url(#ax)" d="M0 5.2L0 0L0.1 -34.5L0.5 -41.8L1.9 -46.5L3.8 -48.7L7.9 -49.4L10 -51.8L10.9 -52.8L15.9 -59.1L17.6 -60.6L19.2 -61.3L41 -65.1L53.5 -68.3L58.5 -69.3L61.9 -69.4L65.2 -68.7L66.9 -67.9L67.7 -67.2L70.2 -64.5L117 -7.8"/><use href="#sr"/></g>
<g transform="translate(1372.6 918.2)"><g clip-path="url(#ax)"><path d="M12.5 -54.9L16.7 -65.2L41.6 -68.3L58.2 -71.9L74.7 -74.9L83.9 -74.9L88 -72.6L117 -38.1L117 2.7L63.1 -61.4L62.3 -61.7L59 -61.1L41.6 -57.3L16.7 -54.3L12.5 -54.9Z" fill="#1f77b4" fill-opacity="0.38"/><path d="M16.7 -60.1L20.9 -64.7L41.6 -67.3L58.2 -70.9L74.8 -73.9L83 -73.8L87.2 -71.5L117 -36.1L117 -10.4L72.3 -63.6L69.8 -65.1L58.2 -63L41.6 -59.4L21.7 -57L20.9 -56.9L16.7 -60.1Z" fill="#ff7f0e" fill-opacity="0.34"/></g><use href="#mn"/><use href="#fr"/><path class="cu" clip-path="url(#ax)" d="M0 5.2L0 0L0.1 -34.5L0.5 -41.8L1.9 -46.5L3.8 -48.7L7.9 -49.4L10 -51.8L10.9 -52.8L15 -57.9L16.7 -59.3L17.6 -59.8L19.2 -60.3L41.8 -63.2L58.5 -66.7L71.9 -69.2L74.4 -69.4L76.1 -69.1L78.6 -67.8L80.3 -66.4L81.9 -64.6L117 -23"/><use href="#sr"/></g>
<g transform="translate(1552 918.2)"><g clip-path="url(#ax)"><path d="M12.5 -54.9L16.7 -65.5L17.5 -65.8L29 -67.8L42.1 -68.8L54.5 -72.4L58.6 -73.2L62.7 -69.4L62.7 -69.4L58.6 -62.3L57.8 -62.1L41.3 -57.7L29 -56.8L15 -54.3L12.5 -54.9Z" fill="#1f77b4" fill-opacity="0.38"/><path d="M58.5 -68.5L64.3 -70.6L65.1 -70.4L75.8 -58.9L117 -8.5L117 6.3L113.7 6.3L112.9 6L75 -40.4L58.5 -64.2Z" fill="#1f77b4" fill-opacity="0.38"/><path d="M58.5 -68.5L65.1 -70.8L75 -72.3L84.9 -72.3L117 -33.1L117 -2.3L75.8 -52.6L65.1 -67.9L64.3 -68.4L58.5 -68.5Z" fill="#ff7f0e" fill-opacity="0.34"/><path d="M62.7 -69.4L65.2 -70L79.2 -71.3L87.4 -71.3L88.2 -70.8L117 -35.6L117 -28.4L83.3 -69.7L65.2 -69.8L62.7 -69.4Z" fill="#1f77b4" fill-opacity="0.38"/></g><use href="#mn"/><use href="#fr"/><path class="cu" clip-path="url(#ax)" d="M0 5.2L0 0L0.1 -34.5L0.5 -41.8L1.9 -46.5L3.8 -48.7L7.9 -49.4L10 -51.8L10.9 -52.8L15.9 -59.1L17.6 -60.6L19.2 -61.3L29.3 -63L41.8 -64.2L56.8 -68.2L61.9 -69.2L63.5 -69.2L64.4 -69L66 -67.9L68.6 -65.2L117 -5.9"/><use href="#sr"/></g>
<g transform="translate(1731.5 918.2)"><g clip-path="url(#ax)"><path d="M12.5 -54.9L16.7 -64.2L29.1 -62.7L37.4 -65.7L58.2 -70.8L73.1 -73.3L117 -18.6L117 -0.9L67.3 -62.9L58.2 -61.4L38.3 -56.5L29.1 -53.3L22.5 -53.3L16.7 -54.1L15.9 -54.9L12.5 -54.9Z" fill="#1f77b4" fill-opacity="0.38"/><path d="M62.7 -67.4L73.4 -71.8L79.2 -73.3L85.8 -73.3L117 -34.3L117 -10.8L80 -57L73.4 -66.5L72.6 -66.9L62.7 -67.4Z" fill="#1f77b4" fill-opacity="0.24"/><path d="M62.7 -67.4L73.4 -71.5L79.2 -72.7L82.5 -72.8L83.3 -72.2L117 -30.1L117 -4.5L80 -50.7L69.3 -66.3L68.5 -67.1L62.7 -67.4Z" fill="#ff7f0e" fill-opacity="0.34"/></g><use href="#mn"/><use href="#fr"/><path class="cu" clip-path="url(#ax)" d="M0 5.2L0 0L0.1 -34.5L0.5 -41.8L1.9 -46.5L3.8 -48.7L7.9 -49.4L10 -51.8L10.9 -52.8L15 -57.9L16.7 -59.1L17.6 -59.5L19.2 -59.7L26.8 -58.9L29.3 -58.9L31.8 -59.5L39.3 -62L58.5 -66.7L70.2 -68.7L71.9 -68.6L72.7 -68.4L74.4 -67.3L76.9 -64.5L117 -14.4"/><use href="#sr"/></g>
<g transform="translate(1910.9 918.2)"><g clip-path="url(#ax)"><path d="M12.5 -54.9L16.7 -65.1L29.1 -65.8L37.4 -68.1L49.9 -70.9L59 -73.4L65.6 -73.3L79.7 -71.9L117 -25.4L117 6.3L116.2 6.3L115.4 5.4L60.6 -62.9L54.8 -63.4L49.9 -62L37.4 -59.2L29.1 -56.9L16.7 -56.2L15 -55.2L12.5 -54.9Z" fill="#1f77b4" fill-opacity="0.38"/><path d="M16.7 -61L20.9 -64.8L29.2 -65.2L37.4 -67.6L49.9 -70.3L58.2 -72.7L64 -72.8L78.1 -71.4L78.9 -70.9L117 -23.4L117 0.1L65.6 -64L56.5 -64.9L49.9 -63L37.4 -60.3L29.2 -57.9L20.9 -57.5L16.7 -61Z" fill="#ff7f0e" fill-opacity="0.34"/></g><use href="#mn"/><use href="#fr"/><path class="cu" clip-path="url(#ax)" d="M0 5.2L0 0L0.1 -34.5L0.5 -41.8L1.9 -46.5L3.8 -48.7L7.9 -49.4L10 -51.8L10.9 -52.8L15.9 -59.1L17.6 -60.4L19.2 -61L27.6 -61.5L30.1 -61.9L38.5 -64.2L48.5 -66.4L56 -68.4L58.5 -68.9L61 -68.9L69.4 -68L71.9 -67.5L73.6 -66.6L76.1 -64L117 -12.9"/><use href="#sr"/></g>
<g transform="translate(2090.4 918.2)"><g clip-path="url(#ax)"><path d="M12.5 -54.9L16.7 -65.1L37.4 -68.8L56.5 -74.9L64.8 -74.9L70.6 -73.5L88 -62.4L117 -24.9L117 4L72.3 -53.9L55.7 -64.7L53.2 -65.4L37.4 -60.4L16.7 -56.8L15 -55.5L12.5 -54.9Z" fill="#1f77b4" fill-opacity="0.38"/><path d="M16.7 -61L20.9 -65.3L37.4 -68.2L56.5 -74.3L63.1 -74.3L69 -72.9L86.4 -61.9L117 -22.2L117 2.4L73.1 -54.4L56.5 -65.2L54 -66L53.2 -65.9L37.4 -60.9L20.9 -58L16.7 -61Z" fill="#ff7f0e" fill-opacity="0.34"/></g><use href="#mn"/><use href="#fr"/><path class="cu" clip-path="url(#ax)" d="M0 5.2L0 0L0.1 -34.5L0.5 -41.8L1.9 -46.5L3.8 -48.7L7.9 -49.4L10 -51.8L10.9 -52.8L15.9 -59.1L17.6 -60.6L19.2 -61.3L37.6 -64.7L55.2 -70.1L56.8 -70.3L58.5 -70.1L62.7 -68.9L65.2 -67.6L76.1 -60.7L78.6 -58.8L80.3 -57.2L82.8 -54.2L117 -9.9"/><use href="#sr"/></g>
<g transform="translate(295.9 1036.2)"><g clip-path="url(#ax)"><path d="M12.5 -54.9L15 -60.5L16.7 -65.5L17.5 -65.9L29.1 -69.5L41.6 -72.6L52.3 -73.8L64 -73.8L117 -8.3L117 6.3L104.6 6.3L47.4 -64.3L46.5 -64.8L41.6 -64.2L29.1 -61.2L16.7 -57.2L15 -55.5L12.5 -54.9Z" fill="#1f77b4" fill-opacity="0.38"/><path d="M16.7 -61.5L20.9 -66.4L29.2 -69L42.4 -72.2L51.5 -73.2L59.8 -73.3L117 -2.6L117 6.3L106.3 6.3L48.2 -65.3L47.4 -65.4L41.6 -64.7L29.2 -61.7L20.9 -59.1L16.7 -61.5Z" fill="#ff7f0e" fill-opacity="0.34"/></g><use href="#mn"/><use href="#fr"/><path class="cu" clip-path="url(#ax)" d="M0 5.2L0 0L0.1 -34.5L0.5 -41.8L1.9 -46.5L3.8 -48.7L7.9 -49.4L10 -51.8L10.9 -52.8L16.7 -60.4L18.4 -61.7L20.1 -62.5L30.1 -65.6L41.8 -68.4L49.4 -69.3L51 -69.2L52.7 -68.4L54.4 -66.9L56.1 -65L115.5 8.4"/><use href="#sr"/></g>
<g transform="translate(475.3 1036.2)"><g clip-path="url(#ax)"><path d="M12.5 -54.9L16.7 -64.6L17.5 -65L29.1 -68.6L54 -73.8L64 -73.8L117 -9.3L117 6.3L106.3 6.3L105.4 5.8L48.2 -63.8L47.4 -64L29.1 -60.3L12.5 -54.9Z" fill="#1f77b4" fill-opacity="0.38"/><path d="M16.7 -60.5L20.9 -65.5L29.2 -68.1L54 -73.3L61.5 -73.3L62.3 -72.8L117 -6.2L117 6.3L108.7 6.3L49.9 -65L29.2 -60.8L20.9 -58.2L16.7 -60.5Z" fill="#ff7f0e" fill-opacity="0.34"/></g><use href="#mn"/><use href="#fr"/><path class="cu" clip-path="url(#ax)" d="M0 5.2L0 0L0.1 -34.5L0.5 -41.8L1.9 -46.5L3.8 -48.7L7.9 -49.4L10 -51.8L10.9 -52.8L15 -58.1L16.7 -59.7L18.4 -60.9L20 -61.6L27.6 -63.9L31.7 -65L50.9 -68.9L52.6 -69.1L54.2 -68.7L55.9 -67.5L57.6 -65.7L118.5 8.4"/><use href="#sr"/></g>
<g transform="translate(654.8 1036.2)"><g clip-path="url(#ax)"><path d="M10.4 -52.3L14.6 -61.5L17 -64.2L29.3 -68.1L50.7 -73.3L52.3 -73.4L56.4 -69.7L56.4 -69.7L52.3 -57.5L28.5 -51.6L17 -48L14.6 -45.6L10.4 -52.3Z" fill="#1f77b4" fill-opacity="0.38"/><path d="M10.4 -52.3L14.6 -48.4L16.7 -50.8L29.3 -54.8L50.2 -60L52.2 -60.2L56.4 -69.7" fill="none" stroke="#1f77b4" stroke-opacity="0.55" stroke-width="2.2"/><path d="M50.2 -69.1L56.8 -70.7L66.7 -72.2L90.6 -72.3L117 -38.3L117 6.3L108 6.3L107.1 5.4L66.7 -46.9L52.6 -68.1L51.8 -68.9L50.2 -69.1Z" fill="#ff7f0e" fill-opacity="0.34"/><path d="M54.3 -69.5L70.8 -71.7L92.3 -71.7L117 -39.9L117 -32.4L88.2 -69.7L54.3 -69.5Z" fill="#1f77b4" fill-opacity="0.38"/></g><use href="#mn"/><use href="#fr"/><path class="cu" clip-path="url(#ax)" d="M0 5.2L0 0L0.1 -34.5L0.5 -41.8L1.9 -46.5L3.8 -48.7L7.9 -49.4L10 -51.8L10.9 -52.8L14.2 -57L15.9 -58.6L17.5 -59.9L20 -61L30.1 -64.1L49.2 -68.8L52.6 -69.3L54.3 -69.3L55.9 -69L56.8 -68.5L58.4 -66.9L60.1 -64.9L116.8 8.4"/><use href="#sr"/></g>
<g transform="translate(834.2 1036.2)"><g clip-path="url(#ax)"><path d="M12.5 -54.9L16.6 -65.1L17.5 -65.4L29.8 -67.8L42.1 -70.8L50.3 -73.2L53.6 -73.7L54.4 -73.7L58.5 -69.7L58.5 -69.7L54.4 -62.9L50.3 -62.2L42.1 -59.8L29.8 -56.8L17.5 -54.4L15 -54.3L12.5 -54.9Z" fill="#1f77b4" fill-opacity="0.38"/><path d="M50.2 -68.4L58.4 -70.9L66.7 -68.7L117 1.5L117 6.3L108.8 6.3L108 5.6L67.5 -51L59.2 -64.1L52.6 -68.3L50.2 -68.4Z" fill="#1f77b4" fill-opacity="0.24"/><path d="M50.2 -68.4L58.4 -70.9L67.5 -72.2L82.4 -72.3L90.6 -68.8L91.4 -68.2L117 -32.4L117 6.3L116.2 6.3L115.4 5.4L66.7 -62.5L58.4 -67.8L50.2 -68.4Z" fill="#ff7f0e" fill-opacity="0.34"/><path d="M54.3 -69.1L58.5 -70.2L70.8 -71.7L84.9 -71.8L93.1 -68.3L93.9 -67.7L117 -35.4L117 -26.9L89 -66L80.7 -69.6L58.5 -69.7L54.3 -69.1Z" fill="#1f77b4" fill-opacity="0.38"/></g><use href="#mn"/><use href="#fr"/><path class="cu" clip-path="url(#ax)" d="M0 5.2L0 0L0.1 -34.5L0.5 -41.8L1.9 -46.5L3.8 -48.7L7.9 -49.4L10 -51.8L10.9 -52.8L15 -58.1L16.7 -59.7L18.4 -60.7L20 -61.2L31.7 -63.6L40.9 -65.8L50.1 -68.3L55.1 -69.2L57.6 -69.3L59.2 -69.1L61.7 -68.3L65.1 -66.7L67.6 -64.7L70.1 -61.5L120.1 8.4"/><use href="#sr"/></g>
<g transform="translate(1013.7 1036.2)"><g clip-path="url(#ax)"><path d="M12.5 -54.9L16.6 -65L17.5 -65.4L28.9 -67.6L42 -69.3L50.2 -72.2L54.3 -69.1L54.3 -69.1L50.2 -60.4L42 -57.3L28.9 -55.6L16.6 -53.2L15 -53.7L12.5 -54.9Z" fill="#1f77b4" fill-opacity="0.38"/><path d="M50.2 -67.5L54.3 -69.7L64.2 -70.7L65 -70.5L117 -3.3L117 6.3L112.1 6.3L111.3 5.3L67.5 -51.5L57.6 -66.4L56.8 -67L53.5 -67.9L50.2 -67.5Z" fill="#1f77b4" fill-opacity="0.24"/><path d="M50.2 -67.5L54.3 -69.7L66.7 -71.6L74.1 -71.6L84 -71.1L117 -28.2L117 3L67.5 -61.3L65 -64.9L64.2 -65.4L54.3 -68.1L50.2 -67.5Z" fill="#ff7f0e" fill-opacity="0.34"/><path d="M54.3 -69.1L70.8 -70.6L77.4 -70.6L87.3 -70L117 -31.5L117 -23.4L82.4 -68.4L71.7 -69L54.3 -69.1Z" fill="#1f77b4" fill-opacity="0.38"/></g><use href="#mn"/><use href="#fr"/><path class="cu" clip-path="url(#ax)" d="M0 5.2L0 0L0.1 -34.5L0.5 -41.8L1.9 -46.5L3.8 -48.7L7.9 -49.4L10 -51.8L10.9 -52.8L15.9 -58.9L17.6 -60.2L19.2 -61L29.3 -62.9L41.8 -64.7L51.8 -68.1L54.3 -68.8L56.8 -68.9L61.9 -68.6L63.5 -68.2L64.4 -67.8L66 -66.5L68.6 -63.6L117 -0.6"/><use href="#sr"/></g>
<g transform="translate(1193.2 1036.2)"><g clip-path="url(#ax)"><path d="M12.5 -54.9L16.7 -64.6L17.5 -64.9L29.1 -68L41.6 -70.2L54.8 -73.3L60.6 -73.8L66.4 -73.8L72.3 -71.9L73.1 -71.3L117 -12.9L117 6.3L109.6 6.1L57.3 -63.3L53.2 -64.6L41.6 -61.8L29.1 -59.7L16.7 -56.3L15 -55.5L12.5 -54.9Z" fill="#1f77b4" fill-opacity="0.38"/><path d="M16.7 -60.5L20.9 -65.3L29.2 -67.5L41.6 -69.6L54 -72.6L60.7 -73.3L64.8 -73.3L71.4 -71.2L117 -10.7L117 6.3L112.1 6.1L59.8 -63.2L59 -64L54.9 -65.4L54 -65.3L41.6 -62.3L29.2 -60.2L20.9 -58L16.7 -60.5Z" fill="#ff7f0e" fill-opacity="0.34"/></g><use href="#mn"/><use href="#fr"/><path class="cu" clip-path="url(#ax)" d="M0 5.2L0 0L0.1 -34.5L0.5 -41.8L1.9 -46.5L3.8 -48.7L7.9 -49.4L10 -51.8L10.9 -52.8L15 -58.1L16.7 -59.7L18.4 -60.8L20.1 -61.4L29.3 -63.8L41.8 -66.1L55.2 -69.1L57.7 -69.4L60.2 -69.4L62.7 -68.9L65.2 -67.9L66.9 -66.8L67.7 -66.1L70.2 -63.1L117 -0.9"/><use href="#sr"/></g>
<g transform="translate(1372.6 1036.2)"><g clip-path="url(#ax)"><path d="M12.5 -54.9L16.7 -65.2L17.5 -65.5L29.1 -68.6L41.6 -70.1L54.8 -73.2L62.3 -74.3L73.9 -74.4L74.7 -73.9L117 -19.3L117 6.3L111.2 6.3L110.4 5.3L56.5 -64.1L41.6 -60.7L29.1 -59.1L15 -55.2L12.5 -54.9Z" fill="#1f77b4" fill-opacity="0.38"/><path d="M16.7 -60.5L20.9 -65.3L29.2 -67.5L41.6 -69L54 -72L62.3 -73.3L73.9 -73.3L74.8 -72.9L117 -18.2L117 6.3L113.7 6.3L112.9 5.3L58.2 -65.3L54 -64.7L41.6 -61.7L29.2 -60.2L20.9 -58L16.7 -60.5Z" fill="#ff7f0e" fill-opacity="0.34"/></g><use href="#mn"/><use href="#fr"/><path class="cu" clip-path="url(#ax)" d="M0 5.2L0 0L0.1 -34.5L0.5 -41.8L1.9 -46.5L3.8 -48.7L7.9 -49.4L10 -51.8L10.9 -52.8L15.1 -58.1L16.7 -59.7L18.4 -60.8L20.1 -61.4L29.3 -63.8L41.9 -65.5L56.1 -68.7L60.3 -69.2L62 -69L62.8 -68.6L64.5 -67.2L66.1 -65.2L123.1 8.4"/><use href="#sr"/></g>
<g transform="translate(1552 1036.2)"><g clip-path="url(#ax)"><path d="M12.5 -54.9L16.7 -64L17.5 -64.3L29.1 -67.1L41.6 -69.5L49.9 -71.6L68.9 -72.6L117 -9.4L117 6.3L110.4 6.2L58.2 -62.6L57.3 -63.2L49.9 -62.8L41.6 -60.7L29.1 -58.2L16.7 -55.2L12.5 -54.9Z" fill="#1f77b4" fill-opacity="0.38"/><path d="M58.5 -67.9L75 -72.6L80.8 -72.5L117 -24.8L117 -1.5L75.8 -55.8L69.2 -65.8L68.4 -66.3L58.5 -67.9Z" fill="#1f77b4" fill-opacity="0.24"/><path d="M58.5 -67.9L75 -72L77.5 -71.9L117 -19.9L117 6.3L113.7 6.2L75.8 -43.7L60.2 -67.6L58.5 -67.9Z" fill="#ff7f0e" fill-opacity="0.34"/></g><use href="#mn"/><use href="#fr"/><path class="cu" clip-path="url(#ax)" d="M0 5.2L0 0L0.1 -34.5L0.5 -41.8L1.9 -46.5L3.8 -48.7L7.9 -49.4L10 -51.8L10.9 -52.8L14.2 -57L15.9 -58.6L17.6 -59.8L20.1 -60.7L29.3 -62.9L41 -65.3L50.2 -67.4L65.2 -68.3L66.9 -68.2L68.6 -67.7L70.2 -66.5L72.7 -63.5L117 -5.2"/><use href="#sr"/></g>
<g transform="translate(1731.5 1036.2)"><g clip-path="url(#ax)"><path d="M12.5 -54.9L16.7 -65.2L30 -66.9L37.4 -68.5L49.9 -72.2L58.2 -73.7L66.4 -74.3L76.4 -74.4L117 -22.3L117 6.3L116.2 6L61.5 -64.4L58.2 -64.3L50.7 -62.9L37.4 -59.1L29.1 -57.3L16.7 -55.8L15 -55.2L12.5 -54.9Z" fill="#1f77b4" fill-opacity="0.38"/><path d="M16.7 -60.5L20.9 -64.7L30 -65.9L37.4 -67.5L49.9 -71.1L58.2 -72.7L66.5 -73.3L73.9 -73.3L74.8 -72.9L117 -18.5L117 4.4L62.3 -65.7L58.2 -65.3L50.7 -64L37.4 -60.2L29.2 -58.4L21.7 -57.5L20.9 -57.4L16.7 -60.5Z" fill="#ff7f0e" fill-opacity="0.34"/></g><use href="#mn"/><use href="#fr"/><path class="cu" clip-path="url(#ax)" d="M0 5.2L0 0L0.1 -34.5L0.5 -41.8L1.9 -46.5L3.8 -48.7L7.9 -49.4L10 -51.8L10.9 -52.8L15.9 -58.9L17.6 -60.2L19.2 -60.8L28.4 -62L31.8 -62.6L38.5 -64.2L49.3 -67.3L55.2 -68.4L59.4 -69.1L63.5 -69.4L66 -69.1L67.7 -68.1L70.2 -65.4L117 -5.2"/><use href="#sr"/></g>
<g transform="translate(1910.9 1036.2)"><g clip-path="url(#ax)"><path d="M12.5 -54.9L15 -60.5L16.7 -65.5L29.1 -67.1L37.4 -68.6L49.9 -71.6L56.5 -73.8L63.1 -73.8L71.4 -71.7L78.1 -66.8L117 -17.3L117 6.3L111.2 6.3L110.4 6L59.8 -58.2L53.2 -63.3L51.5 -63.7L37.4 -60.3L29.1 -58.8L16.7 -57.2L15 -55.5L12.5 -54.9Z" fill="#1f77b4" fill-opacity="0.24"/><path d="M16.7 -61.5L20.9 -65.6L29.2 -66.6L37.4 -68.1L49.9 -71.1L56.5 -73.3L61.5 -73.3L69.8 -71.2L76.4 -66.2L117 -14.6L117 6.3L113.7 6.3L112.9 6L61.5 -59.3L55.7 -63.5L52.4 -64.6L37.4 -60.8L29.2 -59.3L20.9 -58.3L16.7 -61.5Z" fill="#ff7f0e" fill-opacity="0.34"/></g><use href="#mn"/><use href="#fr"/><path class="cu" clip-path="url(#ax)" d="M0 5.2L0 0L0.1 -34.5L0.5 -41.8L1.9 -46.5L3.8 -48.7L7.9 -49.4L10 -51.8L10.9 -52.8L15 -58.3L16.7 -60.2L17.6 -60.9L19.2 -61.7L29.3 -63L36.8 -64.4L47.7 -66.9L54.3 -68.9L56 -69.2L57.7 -69.2L59.4 -68.9L64.4 -67.4L66 -66.5L68.6 -64.8L71.1 -62.6L72.7 -60.8L117 -4.6"/><use href="#sr"/></g>
<g transform="translate(2090.4 1036.2)"><g clip-path="url(#ax)"><path d="M12.5 -54.9L15 -60.5L16.7 -65.5L29.1 -67.1L38.3 -69.7L49.9 -72.6L56.5 -73.8L64 -73.8L69.8 -73.3L70.6 -72.8L117 -11.9L117 6.3L108.7 6.3L107.9 5.4L54.8 -64.2L54 -64.9L49.9 -64.2L38.3 -61.4L29.1 -58.8L16.7 -57.2L15 -55.5L12.5 -54.9Z" fill="#1f77b4" fill-opacity="0.38"/><path d="M16.7 -61.5L20.9 -65.6L29.2 -66.6L37.4 -69L49.9 -72L56.5 -73.3L62.3 -73.3L68.1 -72.8L69 -72.2L117 -9.1L117 6.3L110.4 6.3L109.6 5.9L55.7 -64.7L54.9 -65.4L49.9 -64.7L37.4 -61.7L29.2 -59.3L21.7 -58.4L20.9 -58.3L16.7 -61.5Z" fill="#ff7f0e" fill-opacity="0.34"/></g><use href="#mn"/><use href="#fr"/><path class="cu" clip-path="url(#ax)" d="M0 5.2L0 0L0.1 -34.5L0.5 -41.8L1.9 -46.5L3.8 -48.7L7.9 -49.4L10 -51.8L10.9 -52.8L15 -58.3L16.7 -60.2L17.5 -60.9L19.2 -61.7L29.2 -63.1L40.9 -66.2L54.2 -69.2L58.4 -69.4L60.1 -69.3L61.7 -68.8L63.4 -67.6L65.9 -64.9L121.8 8.4"/><use href="#sr"/></g>
<g transform="translate(295.9 1154.2)"><g clip-path="url(#ax)"><path d="M12.5 -54.9L16.7 -64.3L17.5 -64.7L29.1 -68.9L47.4 -74L56.5 -74.1L57.3 -73.6L117 0.5L117 6.3L102.1 6.3L101.3 5.9L44.1 -65.1L43.2 -65.6L29.1 -61.6L16.7 -57.1L15 -55.8L12.5 -54.9Z" fill="#1f77b4" fill-opacity="0.38"/><path d="M16.7 -60.8L20.9 -65.9L29.2 -68.9L47.4 -74L56.5 -74L117 1L117 6.3L102.9 6.3L102.1 5.9L44.1 -65.9L29.2 -61.6L20.9 -58.6L16.7 -60.8Z" fill="#ff7f0e" fill-opacity="0.34"/></g><use href="#mn"/><use href="#fr"/><path class="cu" clip-path="url(#ax)" d="M0 5.2L0 0L0.1 -34.5L0.5 -41.8L1.9 -46.5L3.8 -48.7L7.9 -49.4L10 -51.8L10.9 -52.8L15.9 -59.1L17.5 -60.6L19.2 -61.6L29.2 -65.2L41.7 -68.9L45.9 -69.8L47.5 -69.7L48.4 -69.3L50 -67.9L51.7 -66L111.7 8.4"/><use href="#sr"/></g>
<g transform="translate(475.3 1154.2)"><g clip-path="url(#ax)"><path d="M12.5 -54.9L16.7 -64.3L29.1 -67.4L42.4 -71.2L54 -73.2L61.5 -73.2L62.3 -72.7L117 -4.2L117 6.3L106.3 6.3L105.4 5.9L49 -64.7L48.2 -64.9L41.6 -63.7L29.1 -60.1L16.7 -57.1L15 -55.8L12.5 -54.9Z" fill="#1f77b4" fill-opacity="0.38"/><path d="M16.7 -60.8L20.9 -65.4L42.4 -71.2L54 -73.2L59.8 -73.2L117 -1.6L117 6.3L107.9 6.3L107.1 5.9L50.7 -64.7L49.9 -65.2L41.6 -63.7L29.2 -60.1L20.9 -58.1L16.7 -60.8Z" fill="#ff7f0e" fill-opacity="0.34"/></g><use href="#mn"/><use href="#fr"/><path class="cu" clip-path="url(#ax)" d="M0 5.2L0 0L0.1 -34.5L0.5 -41.8L1.9 -46.5L3.8 -48.7L7.9 -49.4L10 -51.8L10.9 -52.8L15.9 -59.1L17.6 -60.5L19.3 -61.3L29.3 -63.8L42.8 -67.6L52 -69.1L53.7 -68.9L54.5 -68.5L56.2 -67.1L57.9 -65.2L116.6 8.4"/><use href="#sr"/></g>
<g transform="translate(654.8 1154.2)"><g clip-path="url(#ax)"><path d="M12.5 -54.9L16.7 -63.4L17.5 -63.8L30 -68.3L41.6 -71.9L49.9 -74.1L58.2 -74.1L59 -73.6L117 -2.1L117 6.3L104.6 6.3L46.5 -65.1L45.7 -65.7L29.1 -60.7L12.5 -54.9Z" fill="#1f77b4" fill-opacity="0.38"/><path d="M16.7 -59.8L20.9 -65L29.2 -68L41.6 -72L49.9 -74.1L58.2 -74.1L59 -73.5L117 -2.1L117 6.3L105.4 6.3L104.6 5.8L46.6 -65.6L45.7 -65.7L41.6 -64.6L29.2 -60.7L20.9 -57.7L16.7 -59.8Z" fill="#ff7f0e" fill-opacity="0.34"/></g><use href="#mn"/><use href="#fr"/><path class="cu" clip-path="url(#ax)" d="M0 5.2L0 0L0.1 -34.5L0.5 -41.8L1.9 -46.5L3.8 -48.7L7.9 -49.4L10 -51.8L10.9 -52.8L15 -57.9L16.7 -59.3L19.2 -60.7L30 -64.6L44.2 -69L48.4 -69.8L50 -69.5L50.9 -69L52.5 -67.5L54.2 -65.5L114.2 8.4"/><use href="#sr"/></g>
<g transform="translate(834.2 1154.2)"><g clip-path="url(#ax)"><path d="M12.5 -54.9L16.7 -63.4L17.5 -63.8L29.1 -67.4L42.4 -70.6L54 -73.2L60.6 -73.2L117 -4.2L117 6.3L107.1 6.3L49 -64.7L29.1 -60.1L12.5 -54.9Z" fill="#1f77b4" fill-opacity="0.38"/><path d="M16.7 -59.8L20.9 -64.8L21.7 -65.1L30 -67.6L54 -73.2L59 -73.2L59.8 -72.6L117 -2.6L117 6.3L108.7 6.3L50.7 -64.7L49.9 -64.9L41.6 -63.1L29.2 -60.1L20.9 -57.5L16.7 -59.8Z" fill="#ff7f0e" fill-opacity="0.34"/></g><use href="#mn"/><use href="#fr"/><path class="cu" clip-path="url(#ax)" d="M0 5.2L0 0L0.1 -34.5L0.5 -41.8L1.9 -46.5L3.8 -48.7L7.9 -49.4L10 -51.8L10.9 -52.8L15.1 -57.9L16.7 -59.3L19.2 -60.6L29.3 -63.8L42.7 -67L51.9 -69L53.6 -68.9L54.4 -68.5L56.1 -67.2L57.7 -65.4L118 8.4"/><use href="#sr"/></g>
<g transform="translate(1013.7 1154.2)"><g clip-path="url(#ax)"><path d="M12.5 -54.9L16.7 -64.9L41.6 -69.2L54 -73.6L65.6 -73.8L73.9 -72.6L74.7 -72.1L117 -18.1L117 6.3L109.6 6.3L108.7 5.9L54.8 -63L54 -63.7L51.5 -63.8L41.6 -60.3L16.7 -56L15 -55.2L12.5 -54.9Z" fill="#1f77b4" fill-opacity="0.38"/><path d="M16.7 -60.8L20.9 -65.1L41.6 -68.6L54 -73.1L64 -73.2L72.3 -72L117 -14.9L117 6.3L112.9 6.3L112.1 5.3L57.3 -64.6L52.4 -65.2L41.6 -61.3L20.9 -57.8L16.7 -60.8Z" fill="#ff7f0e" fill-opacity="0.34"/></g><use href="#mn"/><use href="#fr"/><path class="cu" clip-path="url(#ax)" d="M0 5.2L0 0L0.1 -34.5L0.5 -41.8L1.9 -46.5L3.8 -48.7L7.9 -49.4L10 -51.8L10.9 -52.8L15.9 -59L17.5 -60.4L19.2 -61.1L40.9 -64.9L53.5 -69.1L55.1 -69.3L56.8 -69.2L60.1 -68.7L61.8 -68.1L63.5 -66.9L66 -64.2L122.8 8.4"/><use href="#sr"/></g>
<g transform="translate(1193.2 1154.2)"><g clip-path="url(#ax)"><path d="M12.5 -54.9L16.6 -64.7L17.5 -65.1L29.8 -67.2L50.2 -72.5L54.3 -69.6L54.3 -69.6L50.2 -62.7L49.4 -62.4L42 -60.2L28.9 -57.1L15 -54.6L12.5 -54.9Z" fill="#1f77b4" fill-opacity="0.38"/><path d="M50.2 -68.4L54.3 -70.5L66.7 -73.2L74.9 -73.2L81.5 -72L117 -26.6L117 6.3L110.4 6.3L109.6 5.4L67.5 -48.4L55.1 -66.8L54.3 -67.5L52.6 -68.2L51.8 -68.5L50.2 -68.4Z" fill="#1f77b4" fill-opacity="0.24"/><path d="M54.3 -69.6L69.2 -69.5L75.8 -68.2L117 -15.5L117 -9.6L70.8 -68.4L65.1 -69.5L54.3 -69.6Z" fill="#ff7f0e" fill-opacity="0.34"/><path d="M54.3 -69.6L70.8 -70.6L76.6 -70.6L83.2 -69.4L117 -26.1L117 -21.9L80.7 -68.3L74.1 -69.5L54.3 -69.6Z" fill="#1f77b4" fill-opacity="0.38"/></g><use href="#mn"/><use href="#fr"/><path class="cu" clip-path="url(#ax)" d="M0 5.2L0 0L0.1 -34.5L0.5 -41.8L1.9 -46.5L3.8 -48.7L7.9 -49.4L10 -51.8L10.9 -52.8L15.9 -59L17.6 -60.4L19.2 -61.1L31.8 -63.5L41.9 -66L52.8 -69L54.5 -69.2L56.1 -69.2L57.8 -68.9L59.5 -68.3L61.2 -67.2L63.7 -64.4L120.7 8.4"/><use href="#sr"/></g>
<g transform="translate(1372.6 1154.2)"><g clip-path="url(#ax)"><path d="M10.4 -52.3L14.6 -61.5L17 -64.1L29.3 -65.6L41.7 -68.5L52.3 -72.6L56.4 -70.5L56.4 -70.5L52.3 -59.2L49.9 -57.9L41.7 -55L29.3 -52L17 -50.5L14.6 -48.2L10.4 -52.3Z" fill="#1f77b4" fill-opacity="0.38"/><path d="M50.2 -67.4L56.8 -71.5L66.7 -73L88.1 -73.1L117 -37.6L117 6.3L111.3 6.3L67.5 -47.5L53.5 -67.8L52.6 -68.1L50.2 -67.4Z" fill="#ff7f0e" fill-opacity="0.34"/><path d="M54.3 -69.5L56.8 -70.8L70.8 -72.5L90.6 -72.5L117 -40.2L117 -32.9L86.5 -70.5L56.8 -70.5L54.3 -69.5Z" fill="#1f77b4" fill-opacity="0.38"/></g><use href="#mn"/><use href="#fr"/><path class="cu" clip-path="url(#ax)" d="M0 5.2L0 0L0.1 -34.5L0.5 -41.8L1.9 -46.5L3.8 -48.7L7.9 -49.4L10 -51.8L10.9 -52.8L15.1 -57.8L16.7 -59.2L18.4 -59.9L28.4 -61.3L32.6 -62.2L42.7 -64.8L48.5 -66.9L54.4 -69.3L56.1 -69.4L56.9 -69.1L58.6 -67.7L60.2 -65.8L120.5 8.4"/><use href="#sr"/></g>
<g transform="translate(1552 1154.2)"><g clip-path="url(#ax)"><path d="M12.5 -54.9L16.7 -64L41.6 -68.5L50.7 -71.7L62.3 -73.1L70.6 -73.1L71.4 -72.7L117 -13.4L117 6.3L106.3 6.3L53.2 -62.5L52.3 -63L49.9 -62.6L41.6 -59.7L16.7 -55.1L12.5 -54.9Z" fill="#1f77b4" fill-opacity="0.38"/><path d="M16.7 -59.8L20.9 -64.3L41.6 -68L50.7 -71.2L62.3 -72.6L69 -72.6L69.8 -72.1L117 -10.7L117 6.3L110.4 6.3L109.6 5.4L55.7 -64.5L49.9 -63.7L41.6 -60.7L20.9 -57L16.7 -59.8Z" fill="#ff7f0e" fill-opacity="0.34"/></g><use href="#mn"/><use href="#fr"/><path class="cu" clip-path="url(#ax)" d="M0 5.2L0 0L0.1 -34.5L0.5 -41.8L1.9 -46.5L3.8 -48.7L7.9 -49.4L10 -51.8L10.9 -52.8L15.1 -57.9L16.7 -59.2L19.2 -60.3L41 -64.3L49.4 -67.1L51.9 -67.6L60.3 -68.6L61.9 -68.3L62.8 -67.9L64.5 -66.5L66.1 -64.5L122.2 8.4"/><use href="#sr"/></g>
<g transform="translate(1731.5 1154.2)"><g clip-path="url(#ax)"><path d="M10.4 -52.3L14.6 -62.1L17 -64.6L29.3 -65.5L51.5 -73.3L52.3 -73.4L56.4 -69.6L56.4 -69.6L52.3 -56.4L51.5 -56.1L29.3 -48.2L17 -47.3L14.6 -45.1L10.4 -52.3Z" fill="#1f77b4" fill-opacity="0.38"/><path d="M10.4 -52.3L14.6 -47.9L16.7 -50.2L29.3 -51.1L50.2 -58.7L52.2 -59.1L56.4 -69.6" fill="none" stroke="#1f77b4" stroke-opacity="0.55" stroke-width="2.2"/><path d="M50.2 -68.4L56.8 -70.6L62.5 -70.9L63.4 -70.2L67.5 -65.4L117 -2.1L117 6.3L111.3 6.3L110.4 5.4L67.5 -49.5L55.1 -67.9L53.5 -68.3L50.2 -68.4Z" fill="#1f77b4" fill-opacity="0.24"/><path d="M50.2 -68.4L56.8 -70.6L66.7 -72.1L101.4 -72.2L107.1 -71.6L108 -71.4L117 -59.8L117 4.2L67.5 -59.2L62.5 -66.3L56.8 -68.1L50.2 -68.4Z" fill="#ff7f0e" fill-opacity="0.34"/><path d="M54.3 -69.2L56.8 -69.9L70.8 -71.6L105.5 -71.6L111.3 -71L117 -63.6L117 -54L105.5 -68.8L104.7 -69L98.9 -69.5L56.8 -69.6L54.3 -69.2Z" fill="#1f77b4" fill-opacity="0.38"/></g><use href="#mn"/><use href="#fr"/><path class="cu" clip-path="url(#ax)" d="M0 5.2L0 0L0.1 -34.5L0.5 -41.8L1.9 -46.5L3.8 -48.7L7.9 -49.4L10 -51.8L10.9 -52.8L15.1 -57.8L16.7 -59.1L18.4 -59.8L27.6 -60.7L30.1 -61.2L48.6 -67.8L52.8 -68.9L55.3 -69.3L57.8 -69.4L60.3 -69.1L62 -68.6L63.7 -67.4L66.2 -64.5L123.2 8.4"/><use href="#sr"/></g>
<g transform="translate(1910.9 1154.2)"><g clip-path="url(#ax)"><path d="M12.5 -54.9L16.7 -64.9L37.4 -68.5L50.7 -72.6L58.2 -73.7L70.6 -73.7L71.4 -73.3L117 -17.1L117 6.3L110.4 6.3L109.6 5.8L52.3 -64.5L49.9 -64.1L37.4 -60.2L16.7 -56.5L15 -55.5L12.5 -54.9Z" fill="#1f77b4" fill-opacity="0.24"/><path d="M16.7 -60.8L20.9 -65.1L37.4 -68L50.7 -72.1L58.2 -73.2L68.1 -73.2L69 -72.7L117 -13.5L117 6.3L112.9 6.3L112.1 5.8L54.9 -64.8L54 -65.3L49.9 -64.6L37.4 -60.7L20.9 -57.8L16.7 -60.8Z" fill="#ff7f0e" fill-opacity="0.34"/></g><use href="#mn"/><use href="#fr"/><path class="cu" clip-path="url(#ax)" d="M0 5.2L0 0L0.1 -34.5L0.5 -41.8L1.9 -46.5L3.8 -48.7L7.9 -49.4L10 -51.8L10.9 -52.8L15.9 -59L17.5 -60.4L19.2 -61.1L36.7 -64.3L50.9 -68.4L55.9 -69.1L57.5 -69L58.4 -68.7L60.1 -67.4L61.7 -65.6L121.7 8.4"/><use href="#sr"/></g>
<g transform="translate(2090.4 1154.2)"><g clip-path="url(#ax)"><path d="M12.5 -54.9L16.7 -64.3L37.4 -68L49.9 -72.5L56.5 -74.1L64 -74.1L69.8 -72.2L70.6 -71.5L117 -9.3L117 6.3L110.4 6.3L109.6 6L57.3 -64.1L56.5 -64.8L53.2 -65.9L52.3 -65.8L49.9 -65.2L37.4 -60.7L16.7 -57.1L15 -55.8L12.5 -54.9Z" fill="#1f77b4" fill-opacity="0.38"/><path d="M16.7 -60.8L20.9 -65.1L37.4 -68L49.9 -72.5L55.7 -74L62.3 -74.1L68.1 -72.2L69 -71.5L117 -7L117 6.3L111.2 6.3L110.4 5.4L58.2 -64.6L54 -66.1L53.2 -66L49.9 -65.2L37.4 -60.7L20.9 -57.8L16.7 -60.8Z" fill="#ff7f0e" fill-opacity="0.34"/></g><use href="#mn"/><use href="#fr"/><path class="cu" clip-path="url(#ax)" d="M0 5.2L0 0L0.1 -34.5L0.5 -41.8L1.9 -46.5L3.8 -48.7L7.9 -49.4L10 -51.8L10.9 -52.8L15.9 -59L17.6 -60.4L19.3 -61.1L36.9 -64.3L40.2 -65.4L49.5 -68.7L54.5 -70L56.2 -70.1L57.9 -69.9L59.5 -69.4L61.2 -68.7L63.7 -66.7L66.2 -63.6L119.9 8.4"/><use href="#sr"/></g>
<g transform="translate(295.9 1272.2)"><g clip-path="url(#ax)"><path d="M12.5 -54.9L16.7 -63.9L17.5 -64.2L41.6 -71.8L51.5 -73L59 -73.1L117 -0.5L117 6.3L101.3 6.3L44.1 -64.8L41.6 -64.5L16.7 -56.7L12.5 -54.9Z" fill="#1f77b4" fill-opacity="0.38"/><path d="M16.7 -60.3L20.9 -65.3L41.6 -71.8L51.5 -73L58.2 -73L117 0.5L117 6.3L105.4 6.3L104.6 5.9L48.2 -64.5L47.4 -65.2L41.6 -64.5L20.9 -58L16.7 -60.3Z" fill="#ff7f0e" fill-opacity="0.34"/></g><use href="#mn"/><use href="#fr"/><path class="cu" clip-path="url(#ax)" d="M0 5.2L0 0L0.1 -34.5L0.5 -41.8L1.9 -46.5L3.8 -48.7L7.9 -49.4L10 -51.8L10.9 -52.8L15.9 -58.9L17.6 -60.2L19.2 -61.1L41.8 -68.1L49.3 -69.1L51 -69L52.7 -68.2L54.3 -66.7L56 -64.7L114.5 8.4"/><use href="#sr"/></g>
<g transform="translate(475.3 1272.2)"><g clip-path="url(#ax)"><path d="M12.5 -54.9L16.7 -63.3L29.1 -66.4L41.6 -70.3L54 -73L66.4 -73.1L67.3 -72.6L117 -9.5L117 6.3L107.9 6.3L51.5 -65.1L41.6 -63L29.1 -59.1L15 -55.8L12.5 -54.9Z" fill="#1f77b4" fill-opacity="0.38"/><path d="M16.7 -59.7L20.9 -64.4L29.2 -66.4L41.6 -70.3L54 -73L64.8 -73.1L65.6 -72.6L117 -7.4L117 6.3L109.6 6.3L53.2 -65.1L52.4 -65.4L41.6 -63L29.2 -59.1L20.9 -57.1L16.7 -59.7Z" fill="#ff7f0e" fill-opacity="0.34"/></g><use href="#mn"/><use href="#fr"/><path class="cu" clip-path="url(#ax)" d="M0 5.2L0 0L0.1 -34.5L0.5 -41.8L1.9 -46.5L3.8 -48.7L7.9 -49.4L10 -51.8L10.9 -52.8L15.1 -57.8L16.7 -59.2L19.3 -60.3L29.3 -62.8L41.9 -66.7L51.1 -68.7L54.5 -69.3L56.1 -69.3L57.8 -68.9L58.7 -68.5L60.3 -67L62 -65L119.9 8.4"/><use href="#sr"/></g>
<g transform="translate(654.8 1272.2)"><g clip-path="url(#ax)"><path d="M12.5 -54.9L16.7 -63.9L17.5 -64.2L29.1 -67.9L42.4 -71.1L51.5 -73L59.8 -73.1L117 -3.2L117 6.3L105.4 6.3L47.4 -64.6L41.6 -63.6L29.1 -60.6L16.7 -56.7L12.5 -54.9Z" fill="#1f77b4" fill-opacity="0.38"/><path d="M16.7 -60.3L20.9 -65.3L29.2 -67.9L41.6 -70.9L51.5 -73L57.3 -73L117 -0.1L117 6.3L107.1 6.3L106.3 5.8L48.2 -65L29.2 -60.6L20.9 -58L16.7 -60.3Z" fill="#ff7f0e" fill-opacity="0.34"/></g><use href="#mn"/><use href="#fr"/><path class="cu" clip-path="url(#ax)" d="M0 5.2L0 0L0.1 -34.5L0.5 -41.8L1.9 -46.5L3.8 -48.7L7.9 -49.4L10 -51.8L10.9 -52.8L15.9 -58.8L17.5 -60.2L19.2 -61.1L29.2 -64.2L42.6 -67.5L50.1 -68.9L51.7 -68.7L52.6 -68.3L54.2 -66.9L55.9 -65L115.9 8.4"/><use href="#sr"/></g>
<g transform="translate(834.2 1272.2)"><g clip-path="url(#ax)"><path d="M12.5 -54.9L16.7 -63.9L42.4 -70.5L55.7 -73L63.1 -73.1L117 -8.2L117 6.3L108.7 6.3L49.9 -64.6L41.6 -63L29.1 -60L16.7 -56.7L12.5 -54.9Z" fill="#1f77b4" fill-opacity="0.38"/><path d="M16.7 -60.3L20.9 -65.1L21.7 -65.3L42.4 -70.5L55.7 -73L63.1 -73.1L117 -8.2L117 6.3L110.4 6.2L51.5 -64.6L50.7 -64.7L41.6 -63L20.9 -57.8L16.7 -60.3Z" fill="#ff7f0e" fill-opacity="0.34"/></g><use href="#mn"/><use href="#fr"/><path class="cu" clip-path="url(#ax)" d="M0 5.2L0 0L0.1 -34.5L0.5 -41.8L1.9 -46.5L3.8 -48.7L7.9 -49.4L10 -51.8L10.9 -52.8L14.2 -57L15.9 -58.8L17.5 -60.2L19.2 -60.9L30.1 -63.9L43.4 -67L53.4 -68.9L55.1 -68.9L56.8 -68.3L58.5 -66.9L60.1 -65L121.1 8.4"/><use href="#sr"/></g>
<g transform="translate(1013.7 1272.2)"><g clip-path="url(#ax)"><path d="M12.5 -54.9L15 -60.2L16.7 -64.8L17.5 -65.1L49.9 -73L58.2 -69.6L117 3.7L117 6.3L107.1 6.3L106.3 5.9L51.5 -62.3L45.7 -64.7L16.7 -57.5L15 -55.8L12.5 -54.9Z" fill="#1f77b4" fill-opacity="0.24"/><path d="M46 -68.4L50.1 -70.1L63.3 -72L70.8 -72L79 -68.6L117 -21.4L117 6.3L113.7 6.3L112.9 5.8L63.3 -56.1L58.4 -63.2L50.1 -68.5L46 -68.4Z" fill="#ff7f0e" fill-opacity="0.34"/><path d="M50.2 -69.4L66.7 -70.9L74.1 -71L82.4 -67.5L83.2 -66.8L117 -24.5L117 -16.2L77.4 -65.7L69.2 -69.4L50.2 -69.4Z" fill="#1f77b4" fill-opacity="0.38"/></g><use href="#mn"/><use href="#fr"/><path class="cu" clip-path="url(#ax)" d="M0 5.2L0 0L0.1 -34.5L0.5 -41.8L1.9 -46.5L3.8 -48.7L7.9 -49.4L10 -51.8L10.9 -52.8L15 -58.3L16.7 -60.2L18.4 -61.4L20.1 -62L48.5 -68.9L50.2 -69L51.8 -68.6L56.9 -66.4L59.4 -64.5L61.9 -61.6L117.9 8.4"/><use href="#sr"/></g>
<g transform="translate(1193.2 1272.2)"><g clip-path="url(#ax)"><path d="M12.5 -54.9L15 -60.5L16.7 -65.3L49.9 -72.4L58.2 -73L70.6 -73L71.4 -72.6L117 -13.4L117 6.3L107.9 6.3L107.1 5.9L53.2 -64L52.3 -64.2L49.9 -64L16.7 -57L15 -55.5L12.5 -54.9Z" fill="#1f77b4" fill-opacity="0.38"/><path d="M16.7 -61.2L20.9 -65.7L21.7 -65.9L49.9 -71.8L58.2 -72.5L68.1 -72.5L69 -72L117 -9.6L117 6.3L109.6 6.3L108.7 5.9L54 -64.9L49.9 -64.5L20.9 -58.4L16.7 -61.2Z" fill="#ff7f0e" fill-opacity="0.34"/></g><use href="#mn"/><use href="#fr"/><path class="cu" clip-path="url(#ax)" d="M0 5.2L0 0L0.1 -34.5L0.5 -41.8L1.9 -46.5L3.8 -48.7L7.9 -49.4L10 -51.8L10.9 -52.8L15.1 -58.3L16.7 -60.2L17.6 -60.8L19.2 -61.7L50.2 -68.1L56.1 -68.6L57.8 -68.3L58.6 -67.8L60.3 -66.4L62 -64.4L118.1 8.4"/><use href="#sr"/></g>
<g transform="translate(1372.6 1272.2)"><g clip-path="url(#ax)"><path d="M12.5 -54.9L15 -60.8L16.7 -62.9L41.6 -68.9L50.7 -72.1L58.2 -73.5L66.4 -72.1L67.3 -71.5L117 -6L117 6.3L111.2 6.3L110.4 5.6L59 -62L58.2 -62.7L54 -63.3L50.7 -62.7L41.6 -59.5L16.7 -53.5L15 -55.2L12.5 -54.9Z" fill="#1f77b4" fill-opacity="0.38"/><path d="M50.2 -67.3L58.4 -71.1L66.7 -73.5L70.8 -73.4L78.2 -72.1L79.1 -71.4L117 -21.4L117 2.3L66.7 -63.7L58.4 -67L50.2 -67.3Z" fill="#1f77b4" fill-opacity="0.24"/><path d="M50.2 -67.3L58.4 -70.6L66.7 -72.4L74.9 -71L75.8 -70.3L117 -16L117 6.3L113.7 6.3L112.9 5.7L67.5 -54L60.1 -65.2L55.1 -67.1L50.2 -67.3Z" fill="#ff7f0e" fill-opacity="0.34"/></g><use href="#mn"/><use href="#fr"/><path class="cu" clip-path="url(#ax)" d="M0 5.2L0 0L0.1 -34.5L0.5 -41.8L1.9 -46.5L3.8 -48.7L7.9 -49.4L10 -51.8L10.9 -52.8L14.2 -56.8L16.7 -58.1L40.1 -63.9L50.2 -67.2L55.2 -68.2L58.5 -68.6L63.5 -67.9L66 -67.1L67.7 -65.8L70.2 -62.9L117 -1.3"/><use href="#sr"/></g>
<g transform="translate(1552 1272.2)"><g clip-path="url(#ax)"><path d="M12.5 -54.9L16.7 -64.4L17.5 -64.7L49.9 -72.9L67.3 -73L117 -9L117 6.3L106.3 6.3L51.5 -64L50.7 -64.7L29.1 -59.5L12.5 -54.9Z" fill="#1f77b4" fill-opacity="0.38"/><path d="M16.7 -60.3L20.9 -65.1L29.2 -67.3L49.9 -72.4L65.6 -72.5L66.5 -72L117 -6.9L117 6.3L108.7 6.3L107.9 5.4L53.2 -65L49.9 -65.1L20.9 -57.8L16.7 -60.3Z" fill="#ff7f0e" fill-opacity="0.34"/></g><use href="#mn"/><use href="#fr"/><path class="cu" clip-path="url(#ax)" d="M0 5.2L0 0L0.1 -34.5L0.5 -41.8L1.9 -46.5L3.8 -48.7L7.9 -49.4L10 -51.8L10.9 -52.8L14.2 -57L15.9 -58.8L17.6 -60.2L20.1 -61.2L30.1 -63.9L49.4 -68.6L51.9 -68.8L57.8 -68.8L59.5 -68.5L60.3 -68.1L62 -66.8L64.5 -63.9L120.6 8.4"/><use href="#sr"/></g>
<g transform="translate(1731.5 1272.2)"><g clip-path="url(#ax)"><path d="M10.4 -52.3L14.6 -62.1L17 -65.1L29.3 -66.6L37.5 -68.4L50.7 -72L52.3 -71.9L56.4 -67.3L56.4 -67.3L52.3 -55L49.9 -54.7L37.5 -51.1L29.3 -49.3L17 -47.8L14.6 -45.1L10.4 -52.3Z" fill="#1f77b4" fill-opacity="0.38"/><path d="M10.4 -52.3L14.6 -47.9L16.7 -50.7L29.3 -52.2L37.6 -54L50.2 -57.7L52.2 -57.7L56.4 -67.3" fill="none" stroke="#1f77b4" stroke-opacity="0.55" stroke-width="2.2"/><path d="M50.2 -67.3L56.8 -68.3L66.7 -66.9L74.9 -61L117 -6.1L117 6.3L109.6 6.3L108.8 5.8L67.5 -48.3L62.5 -55.6L54.3 -63.4L50.2 -65.5Z" fill="#1f77b4" fill-opacity="0.38"/><path d="M50.2 -67.3L66.7 -69.9L98.9 -69.9L109.6 -66.8L117 -61.4L117 0.2L74.9 -54.8L66.7 -60.7L56.8 -65.8L50.2 -67.3Z" fill="#ff7f0e" fill-opacity="0.34"/><path d="M54.3 -67.3L70.8 -69.9L102.2 -69.9L112.9 -66.9L117 -63.9L117 -56L115.4 -58.2L107.1 -64.2L96.4 -67.3L54.3 -67.3Z" fill="#1f77b4" fill-opacity="0.38"/></g><use href="#mn"/><use href="#fr"/><path class="cu" clip-path="url(#ax)" d="M0 5.2L0 0L0.1 -34.5L0.5 -41.8L1.9 -46.5L3.8 -48.7L7.9 -49.4L10 -51.8L10.9 -52.8L15 -58L16.7 -59.5L18.4 -60.3L20.1 -60.7L28.4 -61.8L32.6 -62.6L38.5 -63.9L49.3 -67L52.7 -67.3L56.8 -67.1L62.7 -65.5L66 -64.4L68.6 -63L72.7 -60L75.2 -57.8L76.9 -55.9L117 -3.5"/><use href="#sr"/></g>
<g transform="translate(1910.9 1272.2)"><g clip-path="url(#ax)"><path d="M12.5 -54.9L15 -60.5L16.7 -65.3L29.1 -66.9L37.4 -68.4L56.5 -73L64.8 -73L70.6 -71.6L71.4 -71.1L117 -16.7L117 6.3L112.9 6.3L112.1 5.7L54.8 -62.5L54 -63.2L52.3 -63.6L37.4 -60.1L29.1 -58.6L16.7 -57L15 -55.5L12.5 -54.9Z" fill="#1f77b4" fill-opacity="0.38"/><path d="M16.7 -61.2L20.9 -65.4L29.2 -66.4L37.4 -67.9L56.5 -72.5L64 -72.5L69.8 -71.1L70.6 -70.5L117 -15.2L117 6.3L114.6 6.1L55.7 -63.7L53.2 -64.3L37.4 -60.6L29.2 -59.1L20.9 -58.1L16.7 -61.2Z" fill="#ff7f0e" fill-opacity="0.34"/></g><use href="#mn"/><use href="#fr"/><path class="cu" clip-path="url(#ax)" d="M0 5.2L0 0L0.1 -34.5L0.5 -41.8L1.9 -46.5L3.8 -48.7L7.9 -49.4L10 -51.8L10.9 -52.8L15.9 -59.2L17.6 -60.7L19.2 -61.5L29.3 -62.8L35.9 -64L55.2 -68.4L57.7 -68.4L61 -67.6L62.7 -66.7L63.5 -66L66 -63.3L117 -2.6"/><use href="#sr"/></g>
<g transform="translate(2090.4 1272.2)"><g clip-path="url(#ax)"><path d="M12.5 -54.9L15 -60.8L16.7 -65.8L29.1 -67.5L37.4 -69.8L49.9 -72L56.5 -73.5L66.4 -73.5L76.4 -72L117 -19.7L117 6.3L107.1 6.3L106.3 6L53.2 -62.5L50.7 -62.7L38.3 -60.6L29.1 -58L16.7 -56.5L15 -55.2L12.5 -54.9Z" fill="#1f77b4" fill-opacity="0.38"/><path d="M16.7 -61.2L20.9 -65.4L29.2 -66.4L37.4 -68.8L49.9 -70.9L56.5 -72.5L64 -72.5L73.9 -71.1L74.8 -70.5L117 -15.9L117 6.3L115.4 6.3L114.6 5.5L61.5 -63.1L60.7 -63.7L54 -64.6L49.9 -63.6L37.4 -61.5L29.2 -59.1L20.9 -58.1L16.7 -61.2Z" fill="#ff7f0e" fill-opacity="0.34"/></g><use href="#mn"/><use href="#fr"/><path class="cu" clip-path="url(#ax)" d="M0 5.2L0 0L0.1 -34.5L0.5 -41.8L1.9 -46.5L3.8 -48.7L7.9 -49.4L10 -51.8L10.9 -52.8L15.9 -59.2L17.6 -60.7L19.2 -61.5L29.3 -62.9L38.5 -65.3L49.3 -67.2L55.2 -68.4L56.8 -68.6L59.4 -68.4L64.4 -67.6L66 -67L67.7 -65.8L70.2 -63L117 -2.6"/><use href="#sr"/></g>
<g transform="translate(295.9 1390.1)"><g clip-path="url(#ax)"><path d="M12.5 -54.9L16.7 -64.2L41.6 -71.8L51.5 -73.8L58.2 -73.9L117 0.6L117 6.3L101.3 6.3L44.9 -64.9L44.1 -65L41.6 -64.4L16.7 -56.9L15 -55.8L12.5 -54.9Z" fill="#1f77b4" fill-opacity="0.38"/><path d="M16.7 -60.6L20.9 -65.4L21.7 -65.7L42.4 -72L51.5 -73.8L57.3 -73.9L117 1.6L117 6.3L103.8 6.3L102.9 5.9L46.6 -65.4L41.6 -64.4L20.9 -58.1L16.7 -60.6Z" fill="#ff7f0e" fill-opacity="0.34"/></g><use href="#mn"/><use href="#fr"/><path class="cu" clip-path="url(#ax)" d="M0 5.2L0 0L0.1 -34.5L0.5 -41.8L1.9 -46.5L3.8 -48.7L7.9 -49.4L10 -51.8L10.9 -52.8L15.9 -59L17.6 -60.4L19.2 -61.2L42.6 -68.3L50.1 -69.7L51.8 -69.5L52.6 -69L54.3 -67.6L56 -65.6L114.5 8.4"/><use href="#sr"/></g>
<g transform="translate(475.3 1390.1)"><g clip-path="url(#ax)"><path d="M12.5 -54.9L16.7 -63.8L29.1 -67.8L37.4 -71.4L46.5 -73L53.2 -72.9L69.8 -72.1L73.9 -69.4L117 -10L117 6.3L102.1 6.1L53.2 -61.4L52.3 -62L49 -63.9L43.2 -64.1L37.4 -63L29.1 -59.4L16.7 -55.5L15 -55.5L12.5 -54.9Z" fill="#1f77b4" fill-opacity="0.24"/><path d="M16.7 -59.7L20.9 -64.6L29.2 -67.2L37.4 -70.8L46.6 -72.4L68.1 -71.8L72.3 -69.4L117 -7.7L117 6.3L104.6 6.1L54.9 -62.3L50.7 -64.5L44.1 -64.8L37.4 -63.5L29.2 -59.9L20.9 -57.3L16.7 -59.7Z" fill="#ff7f0e" fill-opacity="0.34"/></g><use href="#mn"/><use href="#fr"/><path class="cu" clip-path="url(#ax)" d="M0 5.2L0 0L0.1 -34.5L0.5 -41.8L1.9 -46.5L3.8 -48.7L7.9 -49.4L10 -51.8L10.9 -52.8L14.2 -57L15.9 -58.5L17.6 -59.7L20.1 -60.7L29.3 -63.7L36 -66.5L38.5 -67.3L44.4 -68.5L48.6 -68.7L60.3 -68.2L62.8 -67.8L64.5 -67L67 -65.1L69.5 -62.1L120.6 8.4"/><use href="#sr"/></g>
<g transform="translate(654.8 1390.1)"><g clip-path="url(#ax)"><path d="M12.5 -54.9L16.7 -63.3L29.1 -67.2L37.4 -70.8L47.4 -73.8L56.5 -73.9L57.3 -73.4L117 -4.6L117 6.3L106.3 6.3L105.4 5.7L44.1 -65L43.2 -65.2L38.3 -63.8L29.1 -59.9L12.5 -54.9Z" fill="#1f77b4" fill-opacity="0.38"/><path d="M16.7 -59.7L20.9 -64.6L29.2 -67.2L37.4 -70.8L47.4 -73.8L54.9 -73.8L117 -2.2L117 6.3L107.1 6.3L106.3 5.7L44.9 -65L44.1 -65.5L38.3 -63.8L29.2 -59.9L20.9 -57.3L16.7 -59.7Z" fill="#ff7f0e" fill-opacity="0.34"/></g><use href="#mn"/><use href="#fr"/><path class="cu" clip-path="url(#ax)" d="M0 5.2L0 0L0.1 -34.5L0.5 -41.8L1.9 -46.5L3.8 -48.7L7.9 -49.4L10 -51.8L10.9 -52.8L15.1 -57.8L16.7 -59.2L18.4 -60.1L28.5 -63.4L36.8 -66.9L41 -68.2L46 -69.6L47.7 -69.4L48.5 -69.1L50.2 -67.7L51.9 -65.9L116.4 8.4"/><use href="#sr"/></g>
<g transform="translate(834.2 1390.1)"><g clip-path="url(#ax)"><path d="M12.5 -54.9L16.7 -63.8L29.1 -66.9L37.4 -69.3L48.2 -73.6L60.6 -73.6L66.4 -73L67.3 -72.5L117 -15.2L117 6.3L110.4 6.3L109.6 5.7L48.2 -64.6L46.5 -64.6L37.4 -60.9L29.1 -58.5L16.7 -55.5L15 -55.5L12.5 -54.9Z" fill="#1f77b4" fill-opacity="0.38"/><path d="M16.7 -59.7L20.9 -64.3L37.4 -68.7L48.2 -73L58.2 -73L64 -72.5L64.8 -71.9L117 -11.8L117 6.3L112.1 6.3L111.2 5.6L49.9 -65L47.4 -65.3L37.4 -61.4L29.2 -59L20.9 -57L16.7 -59.7Z" fill="#ff7f0e" fill-opacity="0.34"/></g><use href="#mn"/><use href="#fr"/><path class="cu" clip-path="url(#ax)" d="M0 5.2L0 0L0.1 -34.5L0.5 -41.8L1.9 -46.5L3.8 -48.7L7.9 -49.4L10 -51.8L10.9 -52.8L15.1 -57.8L16.7 -59.1L18.4 -60L29.3 -62.7L36 -64.7L45.2 -68.2L47.7 -69L49.4 -69.1L51.9 -69L53.6 -68.5L54.4 -68L56.1 -66.6L57.8 -64.8L121.4 8.4"/><use href="#sr"/></g>
<g transform="translate(1013.7 1390.1)"><g clip-path="url(#ax)"><path d="M12.5 -54.9L16.7 -64.2L29.1 -67.2L41.6 -70.9L49.9 -73.9L56.5 -73.8L66.4 -69.4L117 -5.3L117 6.3L102.9 6.3L102.1 5.9L49 -61.4L44.1 -63.7L43.2 -63.6L29.1 -59.4L16.7 -56.4L15 -55.5L12.5 -54.9Z" fill="#1f77b4" fill-opacity="0.38"/><path d="M16.7 -60.6L20.9 -65.2L29.2 -67.2L41.6 -70.9L49.9 -73.9L55.7 -73.7L65.6 -69.4L117 -4.2L117 6.3L105.4 6.3L104.6 5.9L50.7 -62.2L44.9 -64.7L29.2 -59.9L20.9 -57.9L16.7 -60.6Z" fill="#ff7f0e" fill-opacity="0.34"/></g><use href="#mn"/><use href="#fr"/><path class="cu" clip-path="url(#ax)" d="M0 5.2L0 0L0.1 -34.5L0.5 -41.8L1.9 -46.5L3.8 -48.7L7.9 -49.4L10 -51.8L10.9 -52.8L15.1 -58.1L16.7 -59.7L18.4 -60.8L20.1 -61.4L29.3 -63.7L38.5 -66.3L47.8 -69.4L50.3 -69.7L52 -69.4L58.7 -66.5L61.2 -64.6L63.7 -61.8L119 8.4"/><use href="#sr"/></g>
<g transform="translate(1193.2 1390.1)"><g clip-path="url(#ax)"><path d="M12.5 -54.9L16.7 -64.2L30 -66.5L41.6 -69.3L54 -73L60.6 -71.8L117 1.8L117 6.3L107.1 6.3L106.3 5.4L53.2 -63.9L51.5 -64.3L50.7 -64.1L41.6 -61.5L29.1 -58.5L16.7 -56.4L15 -55.5L12.5 -54.9Z" fill="#1f77b4" fill-opacity="0.38"/><path d="M50.2 -68.2L54.3 -70.4L66.7 -73.5L68.3 -73.5L74.1 -72.4L117 -16.7L117 6.3L115.4 6.3L114.6 5.9L67.5 -55.5L60.9 -65.5L60.1 -66.1L54.3 -68.5L50.2 -68.2Z" fill="#1f77b4" fill-opacity="0.24"/><path d="M50.2 -68.2L54.3 -70.3L62.5 -72.1L66.7 -72.2L69.2 -71.6L117 -9.1L117 6.3L109.6 6.3L108.8 6L67.5 -47.9L55.1 -66.6L54.3 -67.4L52.6 -68L51.8 -68.3L50.2 -68.2Z" fill="#ff7f0e" fill-opacity="0.34"/></g><use href="#mn"/><use href="#fr"/><path class="cu" clip-path="url(#ax)" d="M0 5.2L0 0L0.1 -34.5L0.5 -41.8L1.9 -46.5L3.8 -48.7L7.9 -49.4L10 -51.8L10.9 -52.8L15.9 -58.9L17.5 -60.2L19.2 -60.9L31.7 -63.3L40.9 -65.5L53.4 -69L55.1 -69.1L56.7 -68.9L58.4 -68.5L60.1 -67.8L61.7 -66.4L64.2 -63.4L119.3 8.4"/><use href="#sr"/></g>
<g transform="translate(1372.6 1390.1)"><g clip-path="url(#ax)"><path d="M12.5 -54.9L16.7 -64.3L41.6 -68.9L50.7 -72.9L62.3 -74.1L73.9 -74.1L74.7 -73.7L117 -19.2L117 6.3L106.3 6.3L105.4 5.9L52.3 -62.4L51.5 -63.1L49.9 -62.8L41.6 -58.9L16.7 -54.4L15 -54.9L12.5 -54.9Z" fill="#1f77b4" fill-opacity="0.38"/><path d="M16.7 -59.7L20.9 -64L41.6 -67.8L49.9 -71.7L62.3 -73L72.3 -73L117 -15.5L117 6.3L109.6 6.3L108.7 5.9L54 -64.5L53.2 -64.8L49.9 -64.4L41.6 -60.5L20.9 -56.7L16.7 -59.7Z" fill="#ff7f0e" fill-opacity="0.34"/></g><use href="#mn"/><use href="#fr"/><path class="cu" clip-path="url(#ax)" d="M0 5.2L0 0L0.1 -34.5L0.5 -41.8L1.9 -46.5L3.8 -48.7L7.9 -49.4L10 -51.8L10.9 -52.8L15.1 -57.8L16.7 -59.1L18.4 -59.8L40.2 -64L42.7 -64.7L48.6 -67.4L51.1 -68.1L60.3 -69.1L62 -68.8L62.8 -68.4L64.5 -66.9L66.2 -64.9L123.1 8.4"/><use href="#sr"/></g>
<g transform="translate(1552 1390.1)"><g clip-path="url(#ax)"><path d="M12.5 -54.9L16.7 -63.8L29.1 -66.9L41.6 -69L60.6 -74.4L73.9 -74.5L74.7 -74.1L117 -20.2L117 6.3L109.6 6.3L54.8 -63.4L54 -63.7L41.6 -60.1L29.1 -58L16.7 -55L15 -55.2L12.5 -54.9Z" fill="#1f77b4" fill-opacity="0.38"/><path d="M16.7 -59.7L20.9 -64.3L21.7 -64.5L29.2 -66.3L41.6 -68.5L60.7 -73.9L72.3 -73.9L117 -17L117 6.3L112.9 6.3L112.1 5.3L56.5 -65.4L41.6 -61.1L29.2 -59L20.9 -57L16.7 -59.7Z" fill="#ff7f0e" fill-opacity="0.34"/></g><use href="#mn"/><use href="#fr"/><path class="cu" clip-path="url(#ax)" d="M0 5.2L0 0L0.1 -34.5L0.5 -41.8L1.9 -46.5L3.8 -48.7L7.9 -49.4L10 -51.8L10.9 -52.8L15.1 -57.8L16.7 -59.1L19.3 -60.2L29.3 -62.7L41.9 -64.9L57.8 -69.4L59.5 -69.5L61.2 -68.9L62.8 -67.3L64.5 -65.3L122.4 8.4"/><use href="#sr"/></g>
<g transform="translate(1731.5 1390.1)"><g clip-path="url(#ax)"><path d="M12.5 -54.9L16.7 -64.7L37.4 -68.4L45.7 -71.3L54 -73.5L64.8 -73.6L73.1 -71.6L73.9 -71L117 -19.1L117 6.3L110.4 6.3L109.6 5.4L53.2 -62.4L49.9 -63.4L49 -63.3L45.7 -62.5L37.4 -59.5L12.5 -54.9Z" fill="#1f77b4" fill-opacity="0.38"/><path d="M16.7 -60.6L20.9 -64.9L37.4 -67.8L45.7 -70.8L54 -73L62.3 -73L70.6 -71L71.4 -70.5L117 -15.6L117 6.3L113.7 6.3L112.9 5.8L54.9 -63.7L50.7 -64.7L49.9 -64.6L45.7 -63.5L37.4 -60.5L20.9 -57.6L16.7 -60.6Z" fill="#ff7f0e" fill-opacity="0.34"/></g><use href="#mn"/><use href="#fr"/><path class="cu" clip-path="url(#ax)" d="M0 5.2L0 0L0.1 -34.5L0.5 -41.8L1.9 -46.5L3.8 -48.7L7.9 -49.4L10 -51.8L10.9 -52.8L15.9 -58.9L17.6 -60.2L19.2 -60.9L36.8 -64.1L46 -67.2L52.7 -68.9L54.3 -69L56 -68.9L61 -67.5L62.7 -66.6L63.5 -65.9L66 -63.2L117 -1.9"/><use href="#sr"/></g>
<g transform="translate(1910.9 1390.1)"><g clip-path="url(#ax)"><path d="M12.5 -54.9L16.7 -65.2L29.1 -65.9L37.4 -67.4L49.9 -71.9L56.5 -73.5L67.3 -73.5L75.6 -72L117 -21.2L117 6.3L107.9 6.3L107.1 5.9L54 -59.3L51.5 -59.7L37.4 -54.8L29.1 -53.3L16.7 -52.7L15 -53.4L12.5 -54.9Z" fill="#1f77b4" fill-opacity="0.38"/><path d="M16.7 -60.6L20.9 -64.9L29.2 -65.4L37.4 -66.9L49.9 -71.3L56.5 -72.9L64.8 -73L73.1 -71.5L117 -17.6L117 6.3L112.1 6.3L55.7 -63L52.4 -63.6L49.9 -63L37.4 -58.5L29.2 -57L20.9 -56.6L16.7 -60.6Z" fill="#ff7f0e" fill-opacity="0.34"/></g><use href="#mn"/><use href="#fr"/><path class="cu" clip-path="url(#ax)" d="M0 5.2L0 0L0.1 -34.5L0.5 -41.8L1.9 -46.5L3.8 -48.7L7.9 -49.4L10 -51.8L10.9 -52.8L15 -58.1L16.7 -59.6L18.4 -60.4L20.1 -60.7L29.3 -61.3L35.9 -62.4L39.3 -63.3L50.2 -67.2L55.2 -68.4L56.8 -68.5L58.5 -68.4L61.9 -67.8L63.5 -67.2L65.2 -66.2L67.7 -63.6L117 -3.1"/><use href="#sr"/></g>
<g transform="translate(2090.4 1390.1)"><g clip-path="url(#ax)"><path d="M12.5 -54.9L15 -60.2L16.7 -64.7L37.4 -68.5L56.5 -73.9L64 -74L69.8 -72L70.6 -71.4L117 -11.2L117 6.3L112.1 6.3L111.2 5.9L57.3 -63.9L56.5 -64.6L53.2 -65.7L37.4 -61.1L16.7 -57.5L15 -55.8L12.5 -54.9Z" fill="#1f77b4" fill-opacity="0.38"/><path d="M16.7 -61.2L20.9 -65.5L37.4 -68.5L56.5 -73.9L62.3 -73.9L68.1 -72L69 -71.3L117 -9.1L117 6.3L112.9 6.3L112.1 5.3L58.2 -64.4L54 -65.9L37.4 -61.1L20.9 -58.3L16.7 -61.2Z" fill="#ff7f0e" fill-opacity="0.34"/></g><use href="#mn"/><use href="#fr"/><path class="cu" clip-path="url(#ax)" d="M0 5.2L0 0L0.1 -34.5L0.5 -41.8L1.9 -46.5L3.8 -48.7L7.9 -49.4L10 -51.8L10.9 -52.8L15.9 -59.2L17.5 -60.7L19.2 -61.5L37.6 -64.9L55.1 -69.8L57.6 -69.7L59.3 -69.3L60.9 -68.6L63.4 -66.8L65.9 -64L121.8 8.4"/><use href="#sr"/></g>
<g class="m" text-anchor="middle">
<text x="1220.5" y="106.5">First dose 3 days after the infection of 10 cells</text>
<text x="1220.5" y="163.7">Time between doses (hours)</text>
<text x="353.4" y="230">24</text><text x="532.9" y="230">36</text><text x="712.3" y="230">48</text><text x="891.8" y="230">60</text><text x="1071.2" y="230">72</text><text x="1250.7" y="230">84</text><text x="1430.1" y="230">96</text><text x="1609.6" y="230">108</text><text x="1789" y="230">120</text><text x="1968.5" y="230">132</text><text x="2147.9" y="230">144</text>
<text x="295.9" y="1463.7">0</text><text x="412.9" y="1463.7">28</text><text x="475.3" y="1463.7">0</text><text x="592.4" y="1463.7">28</text><text x="654.8" y="1463.7">0</text><text x="771.8" y="1463.7">28</text><text x="834.2" y="1463.7">0</text><text x="951.3" y="1463.7">28</text><text x="1013.7" y="1463.7">0</text><text x="1130.7" y="1463.7">28</text><text x="1193.2" y="1463.7">0</text><text x="1310.2" y="1463.7">28</text><text x="1372.6" y="1463.7">0</text><text x="1489.6" y="1463.7">28</text><text x="1552" y="1463.7">0</text><text x="1669.1" y="1463.7">28</text><text x="1731.5" y="1463.7">0</text><text x="1848.5" y="1463.7">28</text><text x="1910.9" y="1463.7">0</text><text x="2028" y="1463.7">28</text><text x="2090.4" y="1463.7">0</text><text x="2207.4" y="1463.7">28</text>
<text x="1219.7" y="1541.3">Simulation time (days)</text>
<text transform="translate(2231.5 285.1) rotate(90)">0.01</text><text transform="translate(2231.5 403) rotate(90)">0.02</text><text transform="translate(2231.5 521) rotate(90)">0.03</text><text transform="translate(2231.5 639) rotate(90)">0.04</text><text transform="translate(2231.5 756.9) rotate(90)">0.05</text><text transform="translate(2231.5 874.9) rotate(90)">0.06</text><text transform="translate(2231.5 992.9) rotate(90)">0.07</text><text transform="translate(2231.5 1110.9) rotate(90)">0.08</text><text transform="translate(2231.5 1228.8) rotate(90)">0.09</text><text transform="translate(2231.5 1346.8) rotate(90)">0.1</text>
<text transform="translate(2334.5 810.4) rotate(90)">IC50 multiplier</text>
<text transform="translate(104.8 805.4) rotate(-90)">Total diffusive cytokine (<tspan font-family="'DejaVu Sans', sans-serif" font-style="italic" font-size="53" dx="2.5">log</tspan><tspan font-family="'DejaVu Sans', sans-serif" font-size="37" dy="8" dx="1">10</tspan><tspan dy="-8" dx="1.5">)</tspan></text>
</g>
<g class="t" text-anchor="end">
<text x="252" y="268.6">7</text><text x="252" y="311.4">3</text><text x="252" y="344.3">0</text><text x="252" y="386.5">7</text><text x="252" y="429.4">3</text><text x="252" y="462.3">0</text><text x="252" y="504.5">7</text><text x="252" y="547.4">3</text><text x="252" y="580.2">0</text><text x="252" y="622.5">7</text><text x="252" y="665.3">3</text><text x="252" y="698.2">0</text><text x="252" y="740.5">7</text><text x="252" y="783.3">3</text><text x="252" y="816.2">0</text><text x="252" y="858.4">7</text><text x="252" y="901.3">3</text><text x="252" y="934.1">0</text><text x="252" y="976.4">7</text><text x="252" y="1019.2">3</text><text x="252" y="1052.1">0</text><text x="252" y="1094.4">7</text><text x="252" y="1137.2">3</text><text x="252" y="1170.1">0</text><text x="252" y="1212.3">7</text><text x="252" y="1255.2">3</text><text x="252" y="1288.1">0</text><text x="252" y="1330.3">7</text><text x="252" y="1373.2">3</text><text x="252" y="1406">0</text>
</g>
</svg>
</body></html>
